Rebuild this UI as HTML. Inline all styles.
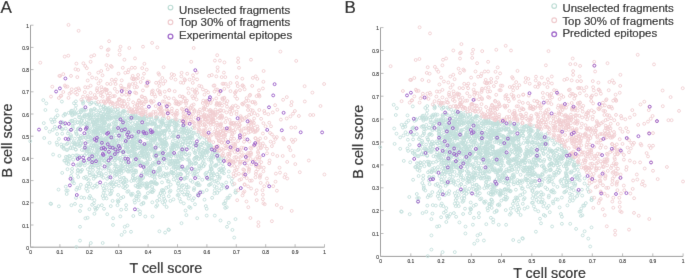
<!DOCTYPE html>
<html><head><meta charset="utf-8"><style>
html,body{margin:0;padding:0;background:#fff;width:685px;height:278px;overflow:hidden}
svg{display:block;font-family:"Liberation Sans",sans-serif}
</style></head><body><svg width="685" height="278" viewBox="0 0 685 278" font-family="Liberation Sans, sans-serif"><defs><filter id="bl" filterUnits="userSpaceOnUse" x="0" y="0" width="685" height="278"><feConvolveMatrix order="3" kernelMatrix="0.0052 0.0619 0.0052 0.0619 0.7314 0.0619 0.0052 0.0619 0.0052" edgeMode="duplicate"/></filter></defs><g filter="url(#bl)"><rect width="685" height="278" fill="#fff"/><path d="M30.5 25.2V247.2H324.5" fill="none" stroke="#999" stroke-width="1"/><path d="M30.5 247.2v-3M30.5 247.2h3M59.9 247.2v-3M30.5 225.0h3M89.3 247.2v-3M30.5 202.8h3M118.7 247.2v-3M30.5 180.6h3M148.1 247.2v-3M30.5 158.4h3M177.5 247.2v-3M30.5 136.2h3M206.9 247.2v-3M30.5 114.0h3M236.3 247.2v-3M30.5 91.8h3M265.7 247.2v-3M30.5 69.6h3M295.1 247.2v-3M30.5 47.4h3M324.5 247.2v-3M30.5 25.2h3" fill="none" stroke="#a8a8a8" stroke-width="0.8"/><g font-size="4.9" fill="#222" stroke="#222" stroke-width="0.12"><text x="30.5" y="254.1" text-anchor="middle">0</text><text x="29.0" y="249.8" text-anchor="end">0</text><text x="59.9" y="254.1" text-anchor="middle">0.1</text><text x="29.0" y="227.6" text-anchor="end">0.1</text><text x="89.3" y="254.1" text-anchor="middle">0.2</text><text x="29.0" y="205.4" text-anchor="end">0.2</text><text x="118.7" y="254.1" text-anchor="middle">0.3</text><text x="29.0" y="183.2" text-anchor="end">0.3</text><text x="148.1" y="254.1" text-anchor="middle">0.4</text><text x="29.0" y="161.0" text-anchor="end">0.4</text><text x="177.5" y="254.1" text-anchor="middle">0.5</text><text x="29.0" y="138.8" text-anchor="end">0.5</text><text x="206.9" y="254.1" text-anchor="middle">0.6</text><text x="29.0" y="116.6" text-anchor="end">0.6</text><text x="236.3" y="254.1" text-anchor="middle">0.7</text><text x="29.0" y="94.4" text-anchor="end">0.7</text><text x="265.7" y="254.1" text-anchor="middle">0.8</text><text x="29.0" y="72.2" text-anchor="end">0.8</text><text x="295.1" y="254.1" text-anchor="middle">0.9</text><text x="29.0" y="50.0" text-anchor="end">0.9</text><text x="324.5" y="254.1" text-anchor="middle">1</text><text x="29.0" y="27.8" text-anchor="end">1</text></g><path d="M380.5 27.6V256.4H683.1" fill="none" stroke="#999" stroke-width="1"/><path d="M380.5 256.4v-3M380.5 256.4h3M410.8 256.4v-3M380.5 233.5h3M441.0 256.4v-3M380.5 210.6h3M471.3 256.4v-3M380.5 187.8h3M501.5 256.4v-3M380.5 164.9h3M531.8 256.4v-3M380.5 142.0h3M562.1 256.4v-3M380.5 119.1h3M592.3 256.4v-3M380.5 96.2h3M622.6 256.4v-3M380.5 73.4h3M652.8 256.4v-3M380.5 50.5h3M683.1 256.4v-3M380.5 27.6h3" fill="none" stroke="#a8a8a8" stroke-width="0.8"/><g font-size="4.9" fill="#222" stroke="#222" stroke-width="0.12"><text x="380.5" y="263.3" text-anchor="middle">0</text><text x="379.0" y="259.0" text-anchor="end">0</text><text x="410.8" y="263.3" text-anchor="middle">0.1</text><text x="379.0" y="236.1" text-anchor="end">0.1</text><text x="441.0" y="263.3" text-anchor="middle">0.2</text><text x="379.0" y="213.2" text-anchor="end">0.2</text><text x="471.3" y="263.3" text-anchor="middle">0.3</text><text x="379.0" y="190.4" text-anchor="end">0.3</text><text x="501.5" y="263.3" text-anchor="middle">0.4</text><text x="379.0" y="167.5" text-anchor="end">0.4</text><text x="531.8" y="263.3" text-anchor="middle">0.5</text><text x="379.0" y="144.6" text-anchor="end">0.5</text><text x="562.1" y="263.3" text-anchor="middle">0.6</text><text x="379.0" y="121.7" text-anchor="end">0.6</text><text x="592.3" y="263.3" text-anchor="middle">0.7</text><text x="379.0" y="98.8" text-anchor="end">0.7</text><text x="622.6" y="263.3" text-anchor="middle">0.8</text><text x="379.0" y="76.0" text-anchor="end">0.8</text><text x="652.8" y="263.3" text-anchor="middle">0.9</text><text x="379.0" y="53.1" text-anchor="end">0.9</text><text x="683.1" y="263.3" text-anchor="middle">1</text><text x="379.0" y="30.2" text-anchor="end">1</text></g><defs><marker id="mt" markerUnits="userSpaceOnUse" markerWidth="8" markerHeight="8" refX="4" refY="4" overflow="visible"><circle cx="4" cy="4" r="1.45" fill="none" stroke="#c2dfdb" stroke-width="0.9"/></marker><marker id="mp" markerUnits="userSpaceOnUse" markerWidth="8" markerHeight="8" refX="4" refY="4" overflow="visible"><circle cx="4" cy="4" r="1.45" fill="none" stroke="#f0cdd0" stroke-width="0.9"/></marker><marker id="mv" markerUnits="userSpaceOnUse" markerWidth="8" markerHeight="8" refX="4" refY="4" overflow="visible"><circle cx="4" cy="4" r="1.45" fill="none" stroke="#9d5ccb" stroke-width="1.0"/></marker></defs><path d="M141.9 152.9 127.9 147.9 120.0 128.2 30.2 141.2 211.9 179.9 94.4 108.7 46.0 128.1 71.3 110.8 138.1 182.1 103.7 155.4 172.9 141.2 108.0 147.2 138.1 187.2 170.8 147.6 67.7 190.6 116.0 184.6 73.2 159.7 109.4 116.6 140.0 211.5 103.4 115.1 86.6 185.8 196.2 163.1 215.9 165.8 131.8 150.6 135.9 154.4 127.5 145.4 169.5 121.8 179.0 187.5 113.8 122.6 216.3 180.7 184.7 148.7 137.9 192.1 134.4 200.3 152.6 133.7 83.9 109.4 142.3 125.2 132.5 132.0 144.7 123.2 126.2 161.2 81.6 119.9 113.6 128.5 194.9 160.5 188.7 198.5 61.9 146.8 104.3 121.2 104.3 125.6 196.4 184.2 158.8 163.1 157.5 144.0 150.9 170.6 235.7 190.5 93.1 154.2 93.0 170.0 80.8 184.8 189.8 138.4 130.6 119.3 131.5 115.5 154.8 174.6 89.4 115.4 108.1 112.7 114.9 160.7 150.5 131.3 185.4 130.5 204.5 199.7 122.9 126.2 91.4 103.0 184.2 138.8 187.4 131.7 168.6 154.8 106.4 109.4 235.6 192.6 217.9 158.8 151.2 149.6 110.8 206.1 80.9 171.0 196.1 157.6 115.0 156.5 84.7 165.3 110.9 147.6 112.6 132.1 175.4 145.4 96.8 186.7 187.3 194.9 103.3 177.7 157.2 136.6 140.3 155.4 203.6 166.2 113.7 157.9 81.3 197.4 198.7 132.7 136.4 158.0 92.1 204.8 198.7 149.8 202.8 142.7 83.1 123.2 212.5 172.0 103.7 160.8 171.7 169.4 169.6 191.9 181.5 223.2 97.3 139.6 213.8 156.4 120.1 179.6 202.1 155.4 101.9 130.8 168.8 181.3 197.0 174.6 117.1 119.3 166.6 207.0 114.6 129.7 94.2 130.5 155.0 162.1 144.2 156.7 126.1 205.2 131.4 166.1 117.5 115.9 143.4 118.3 144.6 133.0 111.7 143.2 114.7 117.0 72.9 128.1 74.5 112.6 133.7 170.2 170.4 200.9 112.0 160.0 209.4 171.3 188.5 158.9 211.7 162.7 134.4 143.0 45.4 110.0 181.3 157.3 235.5 219.1 131.8 130.8 103.6 198.4 211.7 168.9 147.0 143.4 72.2 110.8 155.7 183.1 143.2 203.4 164.4 134.2 116.0 117.2 71.7 129.6 118.1 111.6 126.6 169.9 165.1 141.8 100.4 141.9 182.9 159.1 180.6 136.8 123.8 152.2 90.8 243.0 119.5 148.4 218.4 158.1 111.7 115.9 177.6 195.2 97.8 127.2 160.5 120.5 223.1 185.6 154.3 140.2 135.2 178.8 75.9 101.4 127.8 164.7 205.4 174.0 120.8 145.4 84.2 197.9 146.4 149.7 172.2 124.2 99.3 140.3 165.7 125.6 72.1 168.9 109.6 148.5 212.1 197.8 94.9 158.5 100.8 138.0 97.3 119.4 214.8 165.8 93.4 145.1 108.3 146.9 175.8 169.1 122.5 138.8 85.5 146.4 101.6 117.9 148.1 154.1 123.3 197.0 95.9 145.1 63.5 115.7 104.7 123.2 105.1 146.2 103.0 140.2 199.2 168.1 91.1 145.3 76.5 134.0 167.3 127.7 142.5 184.0 168.5 126.3 125.5 159.4 130.5 121.4 200.3 137.2 177.9 161.5 107.7 134.1 169.5 137.2 127.5 112.5 154.5 150.2 133.8 146.7 168.4 187.0 177.8 175.2 103.4 106.5 81.2 121.1 83.8 163.6 118.7 115.0 122.3 135.1 160.0 167.6 101.0 139.4 171.3 148.2 106.8 119.6 102.6 129.7 123.7 170.9 98.8 173.1 157.9 170.8 162.8 118.2 190.6 142.5 146.7 183.1 129.5 129.4 163.1 154.9 172.9 132.6 193.4 149.9 204.8 164.1 101.6 157.4 130.8 168.6 232.9 184.6 119.9 157.8 148.0 155.3 156.3 128.3 156.0 133.4 139.6 140.2 97.4 148.4 150.2 137.1 221.5 188.6 89.1 186.7 181.8 185.9 171.9 151.0 76.0 197.9 161.7 132.5 177.5 177.4 134.1 143.7 146.0 171.1 211.3 147.0 182.9 141.5 84.8 135.7 194.6 174.2 82.8 161.5 190.5 172.0 98.1 129.7 80.3 129.3 175.8 128.9 154.7 138.5 217.5 152.6 203.3 154.1 108.7 109.6 117.6 133.3 142.2 165.5 103.6 129.0 165.3 201.0 119.7 119.4 177.5 161.3 151.6 150.1 180.4 174.1 160.9 152.2 173.9 135.1 69.6 156.6 128.4 151.2 69.5 138.8 158.9 168.1 156.6 117.1 176.6 124.0 105.3 116.2 159.7 168.8 103.3 145.5 130.0 166.5 77.6 122.4 67.9 133.4 162.6 202.3 152.7 174.5 144.5 197.3 100.7 113.2 231.7 182.0 228.5 198.0 173.1 165.0 206.6 155.2 101.2 148.7 208.0 148.8 88.1 183.8 177.4 145.9 115.5 126.7 146.0 129.0 88.0 101.0 119.7 170.3 87.7 134.2 91.5 198.4 183.0 133.0 189.1 155.3 190.3 137.1 78.0 158.7 197.2 218.2 56.7 142.5 106.4 147.7 102.5 134.9 93.7 178.7 142.8 131.5 134.8 136.9 132.7 151.4 101.6 174.5 105.5 139.2 230.0 195.5 99.3 159.9 109.4 184.7 66.6 163.2 132.8 147.4 101.7 140.5 121.3 130.4 106.1 140.5 155.4 156.8 61.4 123.0 71.6 120.8 123.2 187.2 121.2 209.7 197.0 144.7 228.8 222.8 122.8 156.4 161.9 132.3 118.6 139.0 89.6 114.4 154.6 163.8 192.8 143.0 166.4 125.7 74.0 183.3 168.5 175.0 107.2 214.2 151.2 170.6 177.5 164.2 152.4 165.0 104.5 168.5 156.1 206.6 93.4 115.4 175.6 164.5 102.7 185.8 195.0 204.3 152.3 140.1 99.0 128.2 155.9 143.2 99.3 162.5 97.9 138.0 89.7 115.2 145.7 173.2 162.5 153.2 63.8 145.2 198.0 182.9 115.6 164.9 116.4 172.0 106.9 117.9 150.3 134.6 112.6 200.9 165.0 144.7 129.4 152.4 101.8 121.9 155.3 139.7 90.3 118.1 122.7 142.5 181.0 148.1 100.7 107.5 148.0 124.7 113.3 131.5 112.7 141.5 177.3 136.3 151.1 165.7 93.7 139.3 96.7 149.6 191.3 164.9 172.4 148.6 202.7 162.9 144.1 156.0 119.3 134.5 143.1 153.7 87.8 162.9 173.4 199.4 135.6 185.8 97.5 152.2 148.9 116.8 106.4 158.7 100.8 128.5 151.0 145.0 86.2 160.5 158.2 171.0 153.4 149.4 132.3 145.8 152.7 133.0 105.6 183.8 163.0 123.0 199.1 166.1 73.0 123.7 171.4 151.6 138.1 132.7 87.5 125.3 204.5 143.6 228.8 171.5 138.8 159.2 88.2 115.7 122.9 166.0 136.7 135.0 140.0 214.2 128.5 191.1 109.4 190.7 121.9 136.6 76.7 165.6 212.0 155.1 43.8 123.1 77.9 170.5 136.0 118.2 118.9 158.9 187.7 144.4 91.1 138.2 97.5 163.2 92.5 148.2 101.7 176.1 135.0 163.5 132.6 146.9 112.5 132.3 165.0 139.4 79.9 138.6 114.8 175.8 91.2 117.5 177.5 155.8 92.2 148.7 68.7 161.2 141.5 155.4 146.1 147.2 95.9 110.1 210.8 175.2 143.8 131.9 167.9 181.6 218.0 176.8 123.9 130.4 120.7 181.7 134.0 159.6 145.4 148.9 126.7 181.2 96.5 153.8 140.5 177.4 184.3 179.0 154.9 120.9 195.5 163.5 197.3 134.8 188.8 147.0 92.2 154.1 187.0 138.4 142.6 156.8 130.1 131.1 84.0 110.5 226.4 188.2 104.8 160.2 149.2 170.3 161.7 143.6 195.7 151.2 189.1 160.5 98.1 134.3 181.3 151.1 109.4 124.5 139.3 143.2 134.1 141.2 70.0 158.7 136.3 198.4 146.6 174.3 108.4 110.8 153.3 149.7 133.8 118.2 94.9 126.1 93.9 125.9 154.3 152.7 67.8 143.1 103.6 192.6 206.3 172.8 168.6 130.0 110.6 173.0 155.8 171.8 221.9 184.6 129.1 136.3 142.2 127.8 223.2 157.9 145.3 216.5 221.3 170.6 105.3 132.5 97.2 122.2 115.7 140.3 102.4 165.3 136.8 145.1 124.9 118.3 95.5 130.3 89.9 172.4 161.2 124.8 104.1 122.8 224.0 173.3 135.2 137.1 161.8 123.1 99.4 163.7 146.7 188.1 184.9 138.5 102.9 111.4 111.6 156.1 84.8 148.5 137.2 137.7 144.3 151.0 182.1 151.5 198.4 195.6 183.3 151.7 190.8 129.3 168.1 153.9 198.6 158.6 121.1 122.7 152.1 187.0 133.7 152.3 109.2 117.5 82.0 169.9 175.5 156.0 144.3 118.4 137.5 123.9 102.7 196.0 121.0 198.1 155.4 148.9 105.2 112.1 112.8 147.2 148.6 168.9 162.1 122.8 128.9 156.8 115.6 157.1 142.2 185.5 141.4 204.3 168.4 229.5 178.3 141.5 143.2 165.4 108.7 164.0 152.5 216.5 115.8 166.4 79.1 114.8 131.5 195.2 134.2 180.4 96.6 115.1 142.6 129.0 129.1 142.3 67.4 160.7 124.7 151.4 208.9 185.1 191.2 163.0 94.2 165.4 134.0 116.7 108.8 143.9 105.4 139.4 99.0 145.0 135.3 114.5 131.3 141.7 185.5 189.4 80.9 137.9 79.4 188.2 87.3 128.3 169.0 129.7 223.9 169.1 127.4 133.7 135.3 122.2 149.5 131.8 62.4 122.1 117.9 109.0 136.1 170.7 116.9 174.0 182.2 144.1 74.7 143.7 84.4 150.5 163.2 190.7 155.4 155.4 159.7 121.6 116.8 181.7 122.5 112.0 108.0 165.6 114.4 156.4 161.1 143.2 134.2 153.9 150.1 159.1 93.8 152.1 123.3 111.2 156.5 146.9 160.6 126.4 91.1 161.8 131.0 194.1 166.8 178.5 189.9 131.5 137.5 141.8 80.3 144.2 139.7 181.7 93.5 161.9 138.6 200.2 123.4 178.0 125.1 166.8 91.2 111.6 72.8 155.7 90.5 121.5 194.8 173.3 206.7 215.6 72.5 180.4 109.1 142.4 123.4 162.0 134.8 131.1 75.7 149.3 137.9 160.0 125.1 184.6 89.2 132.5 190.5 207.9 161.4 131.8 123.8 137.4 91.6 124.7 209.8 184.5 77.8 129.1 160.7 146.7 187.7 175.1 70.9 135.1 144.3 127.3 225.2 207.9 101.3 127.8 99.8 149.6 90.2 104.1 234.2 237.6 154.9 153.1 75.0 119.6 108.6 170.2 116.8 154.0 115.8 151.8 74.7 123.4 112.5 155.5 177.0 175.9 119.1 118.3 139.7 120.0 148.3 136.9 160.3 169.9 184.4 123.5 163.5 196.5 106.3 138.1 190.5 137.3 168.9 229.9 181.7 128.4 158.7 133.8 176.7 180.7 104.0 155.1 145.9 186.5 151.0 140.8 187.4 167.8 152.6 123.5 61.9 101.6 160.0 137.6 122.3 152.1 144.8 169.1 157.7 174.4 170.7 184.6 100.1 158.7 102.0 155.6 147.1 185.0 105.3 107.7 147.7 162.5 202.7 192.1 108.1 157.3 115.3 110.0 97.0 152.4 210.6 159.7 128.6 134.6 144.6 168.2 83.6 116.2 89.6 151.6 130.2 127.0 76.5 144.6 193.4 175.1 179.2 146.1 137.3 135.8 155.7 152.9 97.3 123.7 79.8 138.2 154.7 135.2 112.5 151.2 123.2 183.1 193.3 133.3 164.0 156.5 136.3 125.2 105.6 119.4 152.9 163.0 154.1 155.7 126.4 147.4 175.6 172.1 173.1 144.9 110.0 154.5 161.1 152.7 142.6 146.1 98.4 150.7 145.5 145.4 121.2 125.2 82.4 137.4 133.7 161.1 180.9 129.6 185.8 142.7 91.8 102.6 72.6 181.9 219.1 190.5 202.5 158.9 166.9 145.2 146.4 154.9 147.4 163.4 208.6 159.5 78.2 136.3 137.1 117.3 160.3 175.2 175.9 166.7 108.8 168.3 123.6 145.1 147.5 129.5 210.2 157.5 145.3 137.3 120.4 146.9 147.9 193.1 108.6 128.9 154.9 179.1 147.1 172.7 98.1 125.7 111.7 188.4 102.7 119.1 145.3 116.8 99.6 160.4 127.6 148.0 101.2 160.5 141.4 125.3 61.8 128.9 84.8 155.2 74.5 146.3 123.5 182.8 155.2 173.8 184.0 168.9 159.9 153.2 181.7 154.1 97.4 172.0 70.6 148.1 87.2 149.5 167.8 128.0 225.6 200.9 185.3 177.6 106.5 114.2 162.2 148.0 92.5 159.3 159.5 134.4 67.3 157.3 182.1 192.3 111.0 171.2 189.5 153.6 186.4 215.1 157.2 205.2 114.9 160.0 96.6 141.1 140.7 125.7 80.1 165.2 216.7 187.3 211.3 169.6 117.5 145.1 151.0 144.8 93.3 132.6 180.8 174.1 68.4 164.1 90.8 109.9 159.7 139.0 210.9 168.6 182.7 185.2 83.6 143.7 159.3 154.0 164.2 118.7 76.0 105.6 164.6 156.3 91.4 140.6 158.0 163.4 116.5 149.2 193.2 146.9 143.4 202.8 176.6 124.7 117.5 205.2 124.5 115.8 146.5 153.0 160.8 130.6 183.3 128.0 119.7 113.4 151.8 171.3 91.8 164.6 102.7 144.8 193.9 189.9 156.2 132.2 183.5 153.3 72.6 148.2 151.5 182.5 138.6 128.5 109.2 130.0 107.1 178.8 219.8 177.0 110.4 183.4 104.9 152.9 140.5 118.3 109.6 117.9 214.4 193.5 134.5 138.3 158.5 136.9 133.9 126.4 100.2 115.8 88.8 180.0 97.0 128.0 120.7 162.3 86.0 137.9 172.5 145.3 188.6 187.1 57.3 144.8 114.8 121.4 101.6 157.7 172.0 173.2 154.1 138.1 178.6 194.9 103.3 124.0 136.1 196.3 116.4 123.5 198.1 185.1 121.6 234.9 152.3 189.4 103.6 188.7 136.9 127.2 211.5 156.5 207.8 151.9 116.0 135.5 88.3 137.0 138.6 192.4 80.9 205.7 170.5 152.4 133.4 135.9 178.0 183.9 157.2 133.0 89.8 156.6 142.7 151.8 96.0 122.1 149.5 130.4 93.9 135.3 86.8 119.9 108.4 126.9 166.5 160.0 93.0 187.7 94.1 145.9 206.3 176.1 97.0 117.5 104.1 147.9 162.7 143.9 186.9 187.4 96.3 139.5 183.4 147.3 65.8 186.7 87.1 129.1 150.1 151.7 128.0 120.2 89.1 197.9 113.0 148.2 98.0 129.6 94.0 122.8 89.3 158.0 147.8 159.1 166.6 168.0 164.4 204.3 98.0 167.7 88.9 151.4 114.5 143.3 137.9 125.1 179.1 131.7 139.7 153.0 178.2 136.8 77.3 155.4 206.7 139.8 179.7 153.7 140.9 146.7 111.2 133.7 115.0 130.9 44.2 138.0 112.6 179.6 150.7 182.6 126.5 140.2 145.7 196.6 146.2 147.4 119.9 150.5 178.2 190.7 76.4 189.7 103.7 130.5 154.1 133.6 223.8 203.8 127.1 142.6 139.2 178.3 90.1 136.9 138.5 155.9 193.9 198.2 85.9 109.7 114.4 168.5 79.0 117.2 109.9 155.7 107.2 167.0 151.5 146.0 106.0 130.4 85.5 137.5 127.3 144.0 162.8 159.7 96.7 154.9 127.5 225.5 92.5 121.0 147.2 146.9 96.5 157.4 104.8 123.2 174.9 154.5 166.5 157.9 110.0 112.0 156.4 154.4 189.1 131.0 139.0 140.8 75.0 114.0 186.8 177.8 88.2 123.7 125.5 146.3 162.5 121.1 152.6 142.8 92.6 156.3 94.6 145.5 77.9 169.9 161.5 122.4 79.1 146.0 163.1 143.7 179.9 120.9 119.0 185.7 150.2 144.9 136.1 158.3 87.8 169.2 161.9 157.6 222.0 170.0 161.1 140.0 111.2 118.5 133.7 144.9 189.7 195.6 135.4 146.2 78.6 141.3 110.7 111.3 146.3 124.3 111.0 147.9 159.5 133.1 102.8 140.9 111.6 134.7 85.0 124.4 116.0 117.1 150.9 148.6 136.3 149.0 156.3 119.2 104.9 108.0 101.8 205.2 147.1 158.7 133.4 137.4 197.0 157.3 220.5 220.5 200.2 151.3 192.8 127.8 232.4 229.9 192.4 200.2 155.3 182.8 184.0 124.3 99.2 104.8 121.7 160.8 132.6 166.7 192.7 138.8 132.8 177.9 121.7 131.2 108.6 125.9 135.8 153.9 132.1 142.6 117.1 154.3 203.3 165.9 116.3 145.5 164.3 192.8 84.9 116.0 131.3 181.0 93.7 124.6 84.8 116.9 165.2 130.9 88.1 149.1 189.1 134.6 191.4 132.0 147.5 135.5 103.0 120.9 160.3 134.4 218.1 182.9 143.4 172.2 172.7 136.4 100.0 164.4 162.3 143.0 137.9 147.7 166.2 142.8 94.9 185.8 161.5 154.2 166.2 156.0 64.1 124.2 126.3 162.5 127.3 133.7 206.7 190.1 110.2 136.7 95.6 102.8 202.6 154.0 197.0 156.8 143.2 132.5 103.9 109.0 134.9 202.6 227.0 226.8 76.4 246.9 81.0 124.8 157.6 154.7 180.1 180.4 164.0 149.9 113.0 225.0 133.8 146.6 112.1 131.7 99.9 145.3 121.3 126.8 115.7 171.3 173.0 147.3 152.9 182.2 205.8 151.8 175.5 121.5 137.5 117.5 142.8 130.4 87.6 217.8 175.4 119.8 203.6 161.2 74.0 103.2 163.0 150.0 93.6 162.1 51.0 119.5 186.7 133.7 187.2 159.5 155.6 148.7 218.7 160.3 82.7 101.2 171.2 149.9 158.2 145.6 128.7 129.3 159.2 196.1 138.2 140.4 67.5 169.2 116.4 131.6 119.9 172.1 71.1 113.4 49.6 142.8 200.4 144.6 97.3 160.9 178.1 136.8 175.8 146.4 156.6 136.0 180.9 142.4 131.0 231.8 209.6 171.8 81.6 140.6 74.8 142.9 126.2 179.9 114.7 144.7 102.4 142.9 132.0 149.8 117.2 112.4 124.1 181.9 97.6 135.3 93.5 131.9 76.0 155.4 210.1 145.4 104.6 150.2 136.5 125.2 182.7 144.4 125.7 147.3 85.4 218.3 80.6 143.0 154.4 177.3 80.3 117.2 61.2 144.5 80.9 171.7 145.4 153.2 134.4 144.6 105.3 138.1 57.1 134.0 157.0 183.7 146.2 162.6 98.7 157.1 122.5 133.2 88.0 137.1 80.2 145.8 159.9 140.5 174.3 132.2 157.8 160.6 112.3 139.3 125.6 121.0 176.5 122.2 120.6 139.0 163.9 176.1 121.5 169.7 78.1 164.5 129.4 118.5 198.2 146.9 132.3 163.2 141.3 136.3 201.5 156.8 94.4 200.3 92.3 141.0 113.5 147.2 171.8 120.6 213.4 157.7 156.4 184.1 94.4 120.0 90.2 118.0 200.6 168.5 114.4 143.6 95.9 176.6 210.7 167.0 194.1 188.2 174.5 166.8 93.3 131.3 175.2 138.3 124.1 177.8 163.6 124.6 87.7 133.3 169.0 154.3 115.3 123.4 103.9 142.5 174.7 123.7 106.4 156.9 114.3 129.7 135.7 131.2 182.7 136.5 130.9 144.6 134.0 155.3 110.1 137.4 165.1 159.2 132.0 127.2 85.8 176.9 88.0 147.3 99.9 149.3 86.6 123.3 197.3 145.0 178.3 168.3 72.2 115.4 195.3 153.2 122.6 151.7 148.5 119.5 119.4 170.7 114.7 126.8 183.7 129.9 139.1 125.8 173.6 145.6 115.7 117.6 97.3 183.8 72.2 120.8 95.4 124.1 94.4 213.8 150.3 143.2 175.1 130.4 71.6 144.7 147.7 144.5 59.4 155.9 81.9 150.0 164.9 151.1 112.4 184.6 87.0 179.0 190.7 180.4 105.4 116.8 175.0 160.5 213.3 173.6 141.9 118.4 121.5 173.1 69.0 156.0 126.7 139.0 118.1 194.9 120.0 170.2 88.9 114.2 62.2 133.7 228.7 176.5 174.1 125.5 185.5 210.6 111.9 190.8 144.3 164.7 119.9 116.7 87.3 141.7 202.3 152.6 143.4 132.6 153.1 148.5 118.6 135.4 107.9 109.0 112.9 145.2 177.0 125.4 123.9 130.1 151.6 136.3 51.1 203.9 163.6 147.0 98.6 148.0 79.3 141.0 212.5 150.6 178.4 183.5 145.2 127.1 106.5 198.4 200.2 154.2 102.9 131.9 163.3 190.2 95.8 143.3 84.0 177.8 164.3 143.0 118.7 130.8 95.4 132.0 90.7 139.3 189.2 207.0 110.0 137.3 150.8 122.2 141.6 174.0 156.9 159.3 119.1 151.5 80.0 211.0 114.7 147.9 116.0 117.9 118.5 201.4 110.1 163.9 82.7 118.4 95.4 132.7 174.3 122.4 207.7 151.9 174.5 144.9 165.4 154.0 132.4 146.6 140.6 148.8 111.0 117.9 211.9 178.2 71.4 205.2 103.0 130.3 133.5 116.8 142.0 127.5 156.3 118.0 118.6 141.1 125.7 121.3 194.1 159.0 135.2 170.5 80.9 135.9 111.2 146.8 226.7 207.2 75.4 109.0 210.6 165.8 99.7 137.2 196.8 145.6 132.5 123.3 183.8 129.0 198.0 194.0 138.3 147.6 132.1 164.7 217.3 155.3 175.0 161.3 83.3 102.4 100.0 128.2 214.8 190.3 166.1 138.5 165.3 146.2 95.6 119.5 169.4 125.8 139.3 122.7 175.5 162.6 126.9 147.9 82.1 109.7 173.6 179.4 101.9 120.6 217.0 174.2 193.7 169.6 207.0 144.5 154.9 123.3 110.0 164.0 55.8 117.2 103.2 148.4 148.9 167.8 152.7 123.4 156.8 117.2 79.0 156.1 114.3 164.3 159.6 171.0 188.1 168.1 72.6 126.3 122.2 126.9 62.2 172.9 100.8 170.2 66.5 149.9 135.4 114.8 182.8 131.3 152.6 192.0 77.5 144.3 141.1 180.4 194.8 163.7 169.8 155.3 174.1 175.9 95.1 207.9 179.0 173.6 133.3 216.0 151.4 174.0 83.0 103.6 88.7 141.9 122.9 112.8 70.4 121.4 199.7 152.9 72.5 178.6 205.8 206.1 54.0 119.5 100.2 121.1 136.0 172.4 113.7 148.8 205.7 152.5 129.5 134.2 158.1 126.8 125.9 141.1 117.5 142.9 114.5 154.0 147.7 123.9 168.8 196.2 62.1 122.6 166.7 144.1 170.0 163.9 147.7 186.7 54.9 126.8 138.7 130.2 108.3 114.5 65.9 156.8 143.4 133.1 80.4 123.2 117.8 158.3 66.3 190.6 127.3 127.6 178.4 164.3 113.7 129.4 137.5 147.9 121.0 170.3 165.8 123.6 140.7 132.0 171.7 153.8 194.2 132.7 187.2 172.8 201.3 144.3 132.2 144.2 214.8 215.6 95.1 158.9 161.4 121.5 132.7 193.8 124.9 123.7 190.2 142.6 135.6 131.8 211.6 175.1 186.7 194.1 181.5 178.5 165.1 232.6 135.5 129.4 118.0 145.8 172.2 143.8 179.2 152.8 86.6 115.1 198.7 159.1 173.6 166.9 80.0 240.6 175.9 126.7 133.0 115.1 165.8 142.7 77.4 187.7 114.3 113.5 167.7 155.2 211.0 145.5 219.2 172.8 86.2 153.9 136.4 128.8 124.4 120.0 99.1 132.2 145.7 145.1 194.2 171.5 204.4 137.7 171.0 156.3 80.0 165.5 172.2 161.3 62.5 129.3 68.8 131.6 212.4 153.2 128.1 115.8 140.7 128.1 96.5 120.8 139.5 163.3 101.2 124.9 128.9 137.3 88.0 130.6 94.3 109.4 147.2 138.3 144.5 119.2 218.7 163.8 144.5 157.5 43.3 100.1 131.7 170.5 144.2 119.2 149.8 175.5 185.3 141.6 125.7 128.5 140.5 145.4 189.2 147.9 154.9 124.6 146.6 135.0 70.3 147.9 173.6 136.8 117.7 200.4 168.2 120.9 151.6 123.8 67.0 144.0 143.4 183.4 77.4 157.5 214.7 154.2 125.0 188.1 107.1 162.3 145.0 122.2 71.4 140.9 87.2 126.2 86.2 188.7 128.3 151.6 170.5 190.7 116.8 174.7 137.0 141.9 184.6 132.5 181.5 189.5 77.5 158.4 143.3 176.9 135.0 129.1 91.9 165.3 126.1 162.6 178.3 161.9 184.1 194.5 75.0 203.9 90.0 196.0 93.9 203.4 137.9 133.2 170.5 121.4 110.9 132.6 169.8 164.7 219.0 156.2 86.2 149.7 89.2 118.7 154.7 128.9 206.4 151.1 183.6 124.7 143.9 145.7 96.9 208.4 95.0 176.6 106.5 142.9 131.1 155.6 139.5 185.8 155.4 139.0 106.5 187.7 171.1 172.0 185.4 154.1 111.6 145.1 164.5 139.5 149.5 145.0 76.5 133.4 209.2 178.6 146.7 148.3 151.9 192.0 96.1 163.6 139.5 127.6 184.2 123.1 176.9 168.2 121.6 166.3 146.1 130.5 56.7 110.4 186.7 127.9 75.4 144.3 139.3 117.7 91.4 131.9 108.4 161.0 186.1 171.1 98.8 138.9 140.7 179.4 136.0 149.0 103.6 106.1 135.1 116.2 214.0 175.2 122.2 126.9 185.3 151.0 134.2 172.2 98.0 141.3 112.8 107.6 100.7 156.0 171.1 156.0 87.5 126.1 143.7 148.6 147.2 151.7 129.8 127.8 141.8 147.7 117.5 166.7 130.2 171.7 172.1 172.1 201.2 165.1 80.6 110.4 174.8 127.5 112.2 152.9 140.8 148.7 102.3 116.8 103.7 132.7 89.8 128.3 103.4 157.8 140.3 118.8 208.3 147.5 151.6 119.2 154.7 156.6 101.3 126.1 204.8 157.7 116.0 152.2 188.0 144.8 221.4 158.0 93.5 122.7 176.8 160.7 113.9 186.3 211.6 161.7 104.8 160.9 107.8 118.9 141.9 152.6 64.9 113.9 208.0 179.2 163.8 176.1 77.8 122.2 52.8 129.9 181.9 158.5 95.3 132.0 211.4 158.1 126.1 209.2 133.6 136.5 113.6 128.8 88.3 129.4 101.7 174.0 132.9 140.8 111.6 134.3 202.0 147.5 179.8 160.8 115.3 171.5 128.1 152.4 191.3 136.6 104.1 114.0 151.1 116.9 113.2 137.3 150.9 139.9 102.8 139.4 123.7 122.3 136.6 155.9 138.6 196.4 136.6 133.6 87.1 150.9 146.4 135.8 141.2 152.1 189.1 141.0 110.9 111.5 191.7 138.0 165.2 174.2 95.7 209.7 131.4 156.6 161.9 190.1 139.4 194.3 148.7 155.9 159.4 231.3 143.9 116.0 69.8 137.4 102.7 243.0 104.6 190.6 126.8 126.1 71.1 175.9 128.0 171.6 115.9 174.6 131.2 116.0 137.8 209.7 114.1 127.1 108.5 125.2 161.5 133.4 63.9 148.8 92.8 167.1 108.8 177.0 100.7 133.2 216.2 164.7 102.4 117.6 101.8 115.9 154.1 133.7 139.8 141.1 75.9 149.7 125.4 142.8 151.8 124.5 181.3 156.2 98.7 175.4 169.6 161.2 222.7 172.3 195.0 157.8 210.9 183.9 179.7 138.5 138.8 129.6 179.6 198.7 142.9 118.1 127.3 191.8 204.3 148.8 164.5 130.6 104.6 132.3 128.6 161.4 87.9 148.4 207.4 150.3 160.6 193.0 129.0 123.1 125.4 149.2 160.2 139.5 113.0 137.4 196.6 183.6 106.0 173.6 148.0 145.9 147.9 148.6 152.3 132.2 148.3 142.8 176.6 142.5 90.5 183.8 120.4 118.0 75.9 131.9 127.0 186.0 177.8 146.8 139.8 187.3 189.8 161.8 127.4 124.5 99.5 110.7 98.6 167.5 157.6 159.1 75.3 113.0 91.5 115.6 110.4 157.0 140.4 118.5 113.7 140.4 46.3 103.4 113.7 130.4 97.8 153.2 220.5 168.6 106.0 153.5 108.1 165.0 163.0 131.1 114.7 141.9 57.6 115.4 122.8 118.8 192.2 135.8 128.9 146.8 152.3 176.1 99.3 117.2 135.7 164.8 141.7 178.4 114.6 173.1 113.4 182.9 147.5 183.8 170.1 132.8 201.7 157.0 215.1 152.3 93.6 155.6 184.6 178.3 202.3 179.8 65.7 128.5 141.2 162.8 92.0 136.0 133.2 174.6 58.9 206.3 179.2 167.7 163.5 173.1 143.3 126.5 65.2 114.6 101.3 157.2 133.5 116.1 164.3 133.9 218.4 159.0 158.2 153.0 174.2 144.9 150.5 191.4 91.0 110.6 170.9 161.1 152.3 202.3 109.1 119.7 92.9 121.9 104.9 130.9 199.0 148.4 129.1 132.0 93.3 117.3 158.2 132.7 110.1 194.3 147.0 164.5 97.4 114.5 120.9 165.7 134.9 155.0 120.2 114.1 99.0 112.4 114.1 112.0 52.3 122.2 209.1 143.2 142.0 145.7 217.3 193.0 146.5 186.9 225.0 203.4 89.8 153.2 101.8 119.1 96.7 131.9 132.8 128.3 111.5 182.8 95.8 165.5 119.6 146.1 206.5 142.8 120.9 117.0 157.1 133.2 189.8 163.8 219.4 178.6 90.4 147.6 64.3 160.6 94.1 130.7 137.3 186.7 206.7 208.8 92.2 129.1 111.4 138.4 89.8 175.3 78.2 177.0 177.5 143.1 89.6 154.5 204.2 150.8 80.0 226.8 159.5 199.6 118.8 146.9 182.0 132.6 163.3 165.4 89.4 209.2 122.7 168.8 164.2 198.9 170.3 158.9 137.0 118.2 132.7 138.9 143.7 128.2 80.9 111.8 132.2 140.9 142.3 151.2 96.5 146.9 164.5 136.0 100.6 139.8 147.8 123.8 156.7 131.7 172.6 160.9 134.7 143.1 139.5 143.2 194.7 152.6 156.4 126.7 180.0 166.3 126.0 141.7 153.7 190.4 68.7 112.9 105.8 127.7 195.0 143.2 154.9 123.9 132.6 117.8 138.3 133.4 203.6 150.8 108.7 146.9 137.8 177.4 185.1 169.8 126.1 156.7 103.5 125.9 103.3 116.5 97.6 120.1 127.7 163.5 134.5 178.8 117.3 150.5 121.4 160.0 78.6 112.4 183.9 169.6 150.2 130.8 135.5 128.7 216.4 151.7 145.4 124.6 131.0 155.9 162.3 140.1 144.3 144.8 143.1 119.1 116.4 141.0 232.0 178.6 108.2 143.8 143.7 134.2 174.5 149.7 168.6 125.5 159.9 127.2 49.6 131.7 164.6 162.5 139.0 121.9 132.6 144.1 140.7 163.6 150.5 122.7 143.3 128.3 148.3 135.3 214.8 181.5 89.4 172.7 132.6 149.3 108.9 137.1 136.4 138.9 123.3 120.6 183.8 203.4 208.3 145.8 136.4 165.2 169.8 154.0 109.4 140.5 144.7 164.8 122.0 127.5 143.0 178.1 182.6 127.5 71.3 136.7 78.2 128.6 164.6 131.2 199.6 185.1 66.7 194.0 176.1 130.5 178.8 133.4 181.1 167.3 96.5 154.3 111.1 193.4 138.0 184.9 93.5 123.1 168.8 163.5 67.4 149.9 145.3 116.8 110.4 115.5 110.0 131.9 93.3 176.1 124.6 111.2 93.1 174.2 118.1 201.8 186.1 154.6 209.7 147.1 139.4 157.4 219.1 169.4 116.6 169.3 127.1 131.9 58.9 138.9 150.5 166.6 97.8 133.8 122.6 125.0 173.3 163.4 166.1 149.0 134.7 152.2 139.4 184.2 101.4 150.9 146.6 118.6 142.9 136.0 142.4 151.7 183.4 138.3 93.8 114.0 220.5 161.1 172.7 121.0 116.6 121.8 139.2 162.8 165.2 131.3 96.7 104.0 71.9 172.0 70.9 112.1 105.2 154.0 147.8 171.8 108.7 107.9 174.0 162.7 121.3 124.7 137.9 160.8 65.1 160.4 86.8 122.9 129.0 141.4 56.7 128.6 156.3 126.0 110.7 154.7 102.0 139.5 188.0 192.2 186.3 128.9 134.8 158.3 123.2 131.2 103.2 147.8 120.6 135.8 107.2 114.2 198.1 171.2 165.5 130.8 199.1 138.7 157.1 200.9 169.3 124.3 90.6 166.8 166.3 174.5 50.5 203.6 143.2 147.6 117.3 126.7 105.6 195.5 134.2 148.5 164.3 132.9 154.9 132.3 118.6 148.7 180.8 169.5 154.7 130.6 97.1 148.9 111.7 124.0 98.4 206.1 63.5 147.4 98.8 138.6 140.5 129.4 178.2 156.7 157.2 118.3 90.2 167.4 124.7 226.8 222.2 163.1 154.2 183.4 81.6 121.0 128.8 117.8 187.7 138.5 54.6 121.4 105.3 122.8 173.3 135.7 187.8 166.8 108.9 177.2 172.9 148.1 58.5 189.6 79.0 128.3 99.6 125.7 95.8 134.8 124.4 129.4 98.8 119.9 87.6 191.1 142.9 120.8 167.8 173.6 144.3 149.1 81.6 156.0 72.5 114.1 126.3 132.3 141.5 161.8 136.8 196.4 53.1 154.5 200.7 191.7 178.4 125.5 115.4 152.5 181.1 174.4 116.6 130.7 166.3 187.8 223.2 166.7 176.5 148.8 227.4 197.8 113.1 218.3 119.8 176.9 80.9 164.1 160.8 158.3 93.3 161.3 77.5 173.5 106.4 141.9 187.8 135.7 198.8 177.5 173.8 173.3 160.0 177.1 107.4 152.1 155.6 164.7 73.6 142.5 59.9 127.4 123.5 151.0 127.9 170.8 192.5 181.9 132.8 118.4 124.7 231.8 112.9 140.9 81.0 112.1 123.7 111.0 147.2 136.0 196.4 156.9 107.6 112.5 226.2 182.5 160.9 162.4 107.0 162.9 112.7 117.8 120.3 216.4 132.8 116.1 152.6 140.9 127.5 167.1 104.0 208.8 111.1 110.2 214.5 186.2 152.4 169.3 162.0 182.4 178.4 158.0 96.6 129.6 133.1 175.4 144.0 163.8 123.5 154.3 146.1 197.7 91.4 144.9 74.8 138.7 215.1 149.5 159.9 134.8 186.3 184.9 92.6 158.9 181.8 149.7 235.5 192.4 180.8 201.7 124.2 121.2 125.6 124.0 116.2 153.4 186.3 133.3 130.1 151.2 195.3 144.7 195.1 169.4 118.8 168.5 95.9 132.6 128.9 137.4 149.4 185.9 151.3 181.9 80.8 162.4 160.7 193.4 129.7 130.0 104.0 128.4 188.3 137.8 84.9 114.5 96.1 129.7 137.6 131.3 106.3 140.6" fill="none" stroke="none" marker-start="url(#mt)" marker-mid="url(#mt)" marker-end="url(#mt)"/><path d="M121.7 80.4 137.5 103.1 181.8 108.8 224.3 88.9 214.1 115.1 224.2 98.3 222.0 105.7 219.9 60.6 58.9 98.0 252.7 121.5 256.7 190.3 263.4 81.8 212.9 113.0 219.2 133.4 268.3 114.2 293.0 142.0 270.6 141.6 178.4 104.3 176.8 103.3 248.6 128.1 216.2 135.5 230.1 160.0 185.8 117.8 223.0 149.9 240.3 120.9 209.3 138.8 121.7 90.5 264.7 113.2 142.3 102.0 243.0 161.7 167.9 113.5 249.5 155.6 110.6 84.0 75.2 92.7 186.1 103.7 84.8 92.1 96.4 78.4 222.1 155.0 258.1 141.8 131.3 109.2 76.4 63.6 195.0 96.1 210.4 115.6 134.6 87.4 222.3 98.4 204.9 119.2 258.3 148.1 64.9 85.5 239.5 180.0 212.4 115.0 71.0 92.5 248.3 129.6 167.8 103.5 259.0 90.3 228.3 146.3 260.7 182.9 87.7 80.5 142.2 68.1 213.0 121.7 101.4 87.1 190.4 121.6 223.0 130.5 257.4 142.2 286.8 97.1 134.7 106.1 260.6 167.1 98.2 101.9 183.4 101.1 251.4 164.2 135.5 83.3 71.7 89.3 233.5 173.6 252.2 85.9 106.2 90.1 68.5 24.9 233.7 176.6 216.8 104.0 257.4 156.7 242.9 104.5 208.4 136.9 128.0 72.3 142.5 114.5 190.8 114.4 85.2 66.0 260.1 138.5 97.2 88.2 110.6 104.1 212.9 120.8 259.0 159.7 248.5 100.7 151.8 94.1 238.6 126.6 225.9 132.5 230.2 109.5 119.8 99.3 141.9 105.2 250.1 94.8 193.7 78.6 285.4 174.4 232.3 132.9 106.5 92.8 101.3 101.4 195.1 91.0 187.5 115.1 248.9 128.5 193.3 98.2 222.1 117.1 207.1 134.1 202.8 103.0 104.0 102.1 258.4 222.3 205.6 129.8 204.3 121.1 229.9 161.4 191.9 105.5 232.2 107.8 122.0 94.7 191.0 119.4 304.6 86.2 118.5 73.7 81.3 99.7 124.4 59.7 225.8 160.8 240.0 90.1 60.8 96.0 214.9 60.6 201.3 86.4 209.1 75.9 247.3 160.5 214.5 91.5 227.4 101.1 161.0 107.8 260.1 145.4 114.7 106.7 133.1 102.3 229.7 127.7 283.1 99.8 188.6 93.1 114.8 88.8 210.6 135.7 242.3 118.8 230.8 138.9 203.1 134.8 291.3 127.6 276.9 190.7 176.1 112.5 243.2 169.4 108.4 100.0 218.2 125.4 138.1 75.0 250.7 110.0 108.4 98.3 251.4 126.2 222.0 115.7 87.0 98.0 188.7 110.7 244.9 118.0 234.9 170.6 212.0 112.4 254.5 113.1 223.9 136.4 219.1 118.0 112.6 103.0 259.2 167.2 137.3 105.0 85.2 87.2 255.6 131.8 184.0 117.0 175.5 79.6 129.1 84.5 107.0 89.8 51.0 96.6 238.6 149.7 212.9 119.0 144.4 63.8 260.5 144.1 129.6 109.0 145.5 113.8 221.5 118.5 169.4 104.5 237.1 98.8 207.0 134.3 89.4 73.7 233.6 143.7 249.2 114.9 242.8 120.0 142.9 90.4 107.7 69.2 92.1 77.5 95.3 97.6 240.0 163.8 226.9 157.0 252.7 110.5 200.2 120.6 155.8 113.9 105.1 103.3 267.4 183.0 100.9 95.4 217.9 145.7 174.7 91.2 175.7 114.3 262.9 143.4 131.8 67.8 185.8 101.9 235.5 161.2 241.1 117.5 194.9 92.3 122.5 106.7 173.8 98.5 94.7 95.0 262.9 194.7 168.1 111.1 313.3 115.0 135.5 112.2 78.2 69.9 142.1 109.6 226.5 112.4 214.4 131.7 239.0 67.8 243.3 174.0 230.5 83.0 249.4 141.6 151.4 101.6 90.6 85.7 213.6 85.8 159.7 109.4 201.6 116.8 133.0 112.7 129.0 86.1 96.2 98.0 160.3 94.2 137.0 109.5 212.4 119.3 279.5 167.7 183.5 116.4 273.2 186.2 220.4 126.4 244.6 89.3 246.5 201.5 132.7 75.9 208.3 102.0 216.5 134.5 252.3 130.0 209.9 140.7 212.3 99.8 223.9 72.6 231.3 114.2 187.2 73.7 71.0 75.9 229.9 149.9 142.1 112.5 287.2 178.5 178.8 104.4 230.7 141.2 199.7 121.9 100.5 80.7 206.1 90.8 216.8 102.8 248.7 171.8 238.1 141.0 211.9 134.6 259.9 157.2 184.7 98.2 215.7 128.0 193.5 122.3 164.7 91.7 215.5 117.9 109.0 101.8 237.0 83.0 142.7 78.2 250.6 159.0 244.1 173.9 324.4 174.5 238.1 159.3 296.2 60.9 152.8 90.6 198.4 131.5 212.7 112.1 250.5 131.6 229.6 119.9 235.8 175.1 155.3 96.6 221.7 148.8 223.9 131.1 224.9 134.4 219.3 150.7 204.4 116.8 245.5 128.3 291.7 210.9 234.4 132.4 236.1 91.2 250.0 152.7 216.4 147.6 240.6 161.5 255.5 138.4 221.0 110.3 295.3 139.8 101.0 92.8 229.4 131.2 221.0 124.7 110.0 93.3 221.2 135.0 271.9 146.1 219.9 103.1 248.4 155.5 120.5 46.7 286.7 118.5 298.9 116.0 250.9 122.0 157.8 90.1 254.8 102.1 105.1 89.8 240.6 116.1 110.9 66.0 241.7 156.0 232.1 147.8 204.5 94.6 146.7 69.6 244.2 170.0 203.6 116.1 230.7 130.1 225.3 77.1 246.6 98.1 198.8 122.1 216.1 146.9 135.0 58.4 190.3 107.3 75.5 69.2 234.6 152.0 254.5 161.5 101.9 89.5 192.3 96.3 200.0 109.6 106.4 65.1 217.6 71.0 105.2 89.0 201.6 134.0 52.3 86.7 183.4 113.2 135.0 67.8 77.1 94.4 235.3 124.3 182.3 120.3 137.6 111.8 194.7 123.5 192.5 121.5 204.6 124.2 208.1 121.5 131.9 78.4 109.5 101.3 293.0 113.7 199.2 85.8 171.9 108.6 59.4 75.9 230.5 91.1 240.6 136.5 254.1 118.5 151.8 102.7 207.3 105.1 184.1 116.7 136.3 93.2 231.3 123.6 204.7 125.2 205.1 119.5 252.9 77.9 235.2 96.4 242.4 85.7 241.1 130.5 216.4 104.9 124.7 88.9 139.2 113.2 244.8 134.3 221.0 137.4 200.8 117.2 242.2 136.9 235.4 146.5 223.2 133.2 145.0 97.8 86.8 68.1 179.5 102.1 237.8 86.1 243.9 128.6 222.3 128.1 158.4 73.2 226.6 146.7 196.9 72.6 259.2 95.3 248.3 207.2 158.9 108.9 240.4 156.9 275.9 173.6 152.1 42.9 255.9 174.0 177.0 110.7 280.4 51.6 235.2 92.5 113.0 103.7 159.4 92.6 90.3 98.2 67.4 86.6 244.4 191.4 184.5 79.2 138.9 107.8 160.2 81.4 251.0 59.7 102.6 96.6 206.4 102.8 221.4 142.4 220.0 124.7 154.4 94.3 261.2 147.7 324.1 84.0 139.1 100.8 141.2 103.1 122.7 88.3 220.5 131.6 280.0 172.6 217.9 103.6 216.8 137.5 166.4 109.8 109.1 41.2 242.3 78.7 78.5 88.4 78.6 30.8 227.0 106.7 63.3 92.0 225.0 135.9 259.2 163.9 98.3 72.6 98.5 83.4 185.3 121.3 251.3 114.1 248.1 153.1 92.0 98.3 254.0 132.0 253.0 129.6 165.3 81.1 229.4 154.0 217.2 55.2 101.2 71.0 163.6 113.8 276.8 205.0 209.4 111.1 129.0 93.7 128.7 111.3 263.4 171.3 217.4 150.6 275.5 181.7 293.5 156.0 235.4 129.3 220.0 117.0 134.8 109.2 231.1 162.3 229.5 160.9 256.8 165.3 142.1 97.0 203.2 130.2 244.0 141.8 230.5 123.5 222.7 156.0 141.8 96.3 96.9 90.3 220.6 116.4 87.8 87.4 160.8 111.1 273.7 142.5 145.3 101.8 272.8 112.4 295.3 164.1 204.7 130.7 219.8 110.2 208.1 122.3 217.8 129.9 156.1 82.8 262.9 199.2 153.7 101.2 143.0 46.7 206.0 119.2 115.6 84.0 203.4 100.7 232.2 161.2 188.9 111.4 199.4 129.9 255.5 138.1 208.3 116.7 252.3 128.3 233.3 161.5 223.7 83.8 165.2 96.9 287.2 161.9 275.5 138.9 258.5 94.7 255.5 177.3 248.7 106.2 181.6 72.8 97.8 92.0 261.2 162.2 238.1 62.0 205.5 106.2 295.3 127.6 163.2 114.7 137.5 104.7 244.1 176.2 265.6 126.3 260.6 148.2 237.2 200.2 194.6 110.3 224.3 102.3 263.4 203.3 133.6 79.2 253.8 125.3 168.3 113.1 243.6 148.0 186.6 119.0 143.7 112.5 225.3 145.6 197.1 79.4 161.4 111.5 219.8 135.7 90.6 92.9 258.2 140.0 64.7 56.6 267.0 148.8 143.8 104.2 216.0 133.0 210.2 111.2 140.7 82.0 221.7 142.7 210.2 109.9 206.8 100.7 200.0 125.1 251.8 180.6 119.0 99.3 158.7 82.9 197.2 92.9 176.1 101.3 243.4 192.7 240.0 121.1 65.7 86.7 189.4 117.1 208.5 102.8 171.2 78.0 255.3 159.2 238.9 173.8 159.1 74.6 241.2 131.8 241.6 152.4 211.2 122.2 68.3 55.7 204.4 115.7 204.0 109.0 102.3 92.0 150.8 100.9 262.9 88.5 256.7 200.1 77.3 77.1 246.1 157.4 202.6 112.7 182.8 121.6 231.7 145.9 259.9 177.7 121.3 103.6 221.1 123.5 289.0 147.0 246.5 160.3 266.9 178.5 135.0 92.5 145.7 99.3 76.0 89.2 185.3 122.8 217.3 124.7 146.5 101.4 172.1 113.5 189.6 79.6 205.4 116.9 209.2 140.0 210.3 123.0 118.8 99.9 262.9 133.5 211.9 111.3 242.1 103.8 107.7 55.2 155.6 111.9 128.6 87.7 258.2 153.1 180.7 103.0 284.0 139.4 236.5 169.9 167.2 109.9 205.0 135.1 275.1 105.2 115.8 79.6 182.8 109.7 249.1 168.6 91.2 56.4 229.2 156.1 195.6 117.6 194.1 126.3 160.6 106.0 187.0 100.7 151.5 115.1 214.5 85.4 259.0 157.6 243.7 103.1 258.4 226.0 209.8 129.4 107.6 100.1 237.6 167.2 234.3 166.0 127.7 103.9 276.8 137.1 145.8 109.6 259.9 176.0 206.4 102.1 234.1 138.8 125.4 106.9 159.4 86.0 205.6 101.6 229.6 128.5 208.1 92.4 79.2 90.2 149.4 114.4 90.6 61.8 225.5 139.5 290.4 116.4 183.3 82.9 111.8 79.8 271.9 134.4 218.8 141.0 282.7 156.0 61.2 95.6 132.1 111.7 137.0 87.0 236.5 114.0 113.1 96.2 257.3 130.4 151.9 91.6 233.1 130.7 120.9 85.6 255.7 193.9 259.5 96.4 171.7 74.1 181.3 76.4 165.9 105.4 176.9 103.6 137.9 78.1 69.5 93.7 214.7 147.7 249.6 95.7 246.5 117.0 250.4 218.0 231.3 150.4 233.9 162.3 267.0 153.3 198.2 120.4 270.1 133.0 148.9 81.7 128.5 107.3 187.0 123.5 241.2 179.2 175.4 103.5 192.8 114.0 162.3 78.0 124.4 103.7 291.2 105.2 246.1 101.0 198.4 113.2 203.4 131.5 122.2 100.8 235.0 144.7 209.9 115.9 171.7 111.2 142.1 114.9 117.2 91.9 107.9 95.7 183.9 111.7 312.4 92.6 206.1 136.6 202.8 124.9 225.7 83.9 229.1 129.0 248.5 132.6 320.5 106.0 215.5 109.6 284.5 177.2 264.2 111.0 114.7 81.5 236.1 157.1 226.1 148.3 188.2 88.5 224.4 62.4 176.4 101.5 111.4 102.4 235.2 143.6 215.9 89.4 215.6 112.2 196.5 99.4 107.7 50.1 169.2 90.2 235.1 93.0 87.5 96.0 232.4 134.4 274.2 137.1 108.6 49.4 249.6 122.8 204.1 133.3 242.6 85.3 260.5 174.7 251.1 152.9 291.7 139.8 233.7 123.2 291.7 102.0 264.7 146.1 281.4 207.8 185.0 80.2 123.9 101.0 216.2 98.4 135.9 111.5 198.4 124.9 308.8 160.5 218.8 94.2 244.7 184.9 117.2 103.7 138.0 108.4 248.3 125.2 220.0 91.4 243.6 86.6 136.2 78.8 193.7 48.0 141.9 108.3 169.0 104.3 213.7 121.4 83.4 63.3 120.7 105.4 131.0 111.8 255.7 76.4 257.8 129.0 126.1 94.8 263.6 71.0 134.1 78.9 211.6 119.6 235.2 148.4 175.2 118.6 219.9 141.2 251.1 148.7 277.3 156.0 231.6 136.3 162.2 110.4 234.7 125.6 147.4 81.4 218.0 138.2 257.3 126.5 119.6 99.7 223.2 153.7 244.3 134.3 94.2 55.2 89.0 98.7 119.6 50.3 198.8 116.0 294.9 111.0 109.9 97.6 145.6 111.8 157.3 47.4 229.7 111.7 304.8 101.5 204.3 114.5 222.5 83.8 40.3 62.7 215.7 115.0 180.8 82.5 236.7 111.5 193.2 109.1 231.4 123.0 140.7 113.0 156.0 116.7 150.5 115.4 227.0 129.8 219.1 105.3 174.1 75.0 249.0 169.8 239.4 124.7 83.0 96.6 233.2 122.8 224.7 128.9 255.9 166.1 257.9 151.7 217.5 89.6 144.0 73.7 238.0 152.7 277.3 109.7 269.6 160.5 198.8 128.8 159.7 114.1 117.0 102.7 233.4 147.1 222.6 99.3 215.6 113.9 230.1 163.4 186.0 107.7 89.0 100.0 179.9 96.2 255.4 144.8 111.8 66.9 141.2 103.0 192.8 82.9 187.2 114.9 138.8 100.2 247.1 105.9 162.8 101.5 244.5 184.2 219.9 150.5 155.7 106.1 160.4 113.0 168.8 98.2 191.3 117.3 68.5 97.9 251.1 188.5 216.9 132.7 216.8 122.7 218.6 134.8 236.8 77.1 248.1 186.4 251.1 122.8 228.0 153.8 226.1 118.4 253.7 146.0 191.2 61.8 253.9 122.8 257.3 78.9 163.6 115.9 242.5 195.4 247.1 165.6 223.2 139.9 224.4 143.0 119.6 54.6 196.5 89.4 122.3 106.1 218.0 111.8 60.2 75.9 132.4 110.8 256.1 171.6 160.6 108.0 193.7 104.5 213.3 142.1 210.6 124.8 271.9 221.2 176.3 115.5 239.9 149.8 182.9 97.1 129.2 94.8 169.3 90.3 249.3 120.4 192.5 89.5 163.3 83.8 245.3 139.3 299.8 172.2 204.2 108.7 129.3 48.0 63.3 74.1 206.0 126.4 216.3 76.4 107.2 83.8 262.5 190.2 269.2 122.7 256.6 96.1 198.8 111.5 269.2 163.2 246.7 178.1 121.5 88.1 229.9 154.2 194.8 128.0 128.6 69.9 238.1 58.4 239.3 128.6 224.3 97.8 248.0 110.0 168.2 117.6 252.6 102.0 159.8 91.4 310.2 115.0 236.3 122.9 153.3 111.9 163.6 67.2 221.7 77.1 182.6 96.7 231.0 108.0 225.4 122.1 147.3 85.9 147.4 116.0 234.5 183.9 210.7 103.0 132.5 84.0 219.6 104.0 257.6 115.1 232.7 106.2 228.1 161.4 234.4 157.5 249.9 180.7 255.6 130.9 114.8 96.0 255.5 103.7 182.3 120.8 164.4 101.5 106.2 102.0 257.8 169.5 241.5 147.7 193.0 75.3 219.8 113.4 168.6 118.0 176.6 119.4 107.6 98.9 290.4 150.2 203.7 107.4 206.2 115.3 102.5 75.3 126.9 91.9 133.2 79.2 173.8 114.9 265.6 138.0 280.9 119.6 220.3 132.0 150.8 114.2 240.0 162.2 231.8 124.3 190.7 108.3 261.1 118.8 264.7 204.2 263.4 123.2 252.4 102.2 263.8 167.7 103.7 101.2 223.6 110.8 244.6 155.1 219.6 91.1 271.0 126.3 247.7 155.2 217.6 67.4 250.4 147.7 177.4 113.7 259.3 110.0 200.4 121.9 208.9 115.1 141.3 114.7 232.7 110.8 228.3 86.5 194.4 111.6 128.6 99.4 283.2 138.0 146.1 85.8 212.7 119.1 117.7 106.4 218.0 147.4 239.8 125.2 264.2 186.2 101.2 47.4 206.6 109.8 211.8 75.0 238.0 107.2 226.4 103.5 125.3 72.8 238.1 190.2 231.0 165.7 207.9 118.6 202.9 89.4 122.8 67.8 235.7 105.6 250.9 154.7 272.8 154.2 211.5 119.1 213.5 124.3" fill="none" stroke="none" marker-start="url(#mp)" marker-mid="url(#mp)" marker-end="url(#mp)"/><path d="M495.2 159.2 480.7 154.1 472.7 133.7 380.2 147.2 567.2 187.0 446.2 113.7 396.5 133.7 422.5 115.9 491.3 189.3 455.8 161.8 527.0 147.1 460.2 153.3 491.2 194.6 524.9 153.7 418.8 198.1 468.5 191.8 424.4 166.2 461.8 121.8 493.2 219.6 455.5 120.2 438.2 193.1 551.0 169.7 571.3 172.6 484.8 156.8 489.0 160.7 480.3 151.5 523.6 127.1 533.3 194.8 466.2 128.0 571.7 187.9 539.2 154.9 491.1 199.6 487.5 208.1 506.2 139.4 435.5 114.3 495.6 130.6 485.5 137.7 498.1 128.6 479.0 167.7 433.1 125.2 466.0 134.0 549.7 167.1 543.4 206.3 412.8 152.9 456.5 126.5 456.5 131.1 551.2 191.5 512.5 169.8 511.3 150.0 504.4 177.5 591.7 198.0 444.9 160.6 444.8 176.8 432.3 192.1 544.5 144.2 483.6 124.6 484.4 120.7 508.4 181.5 441.1 120.6 460.4 117.7 467.4 167.3 504.1 136.9 540.0 136.1 559.6 207.4 475.6 131.7 443.2 107.8 538.7 144.6 541.9 137.3 522.6 161.2 458.6 114.3 591.6 200.1 573.4 165.3 504.7 155.8 463.1 214.0 432.4 177.9 550.9 164.0 467.4 162.9 436.3 172.0 463.2 153.7 465.0 137.8 529.7 151.5 448.7 194.0 541.8 202.4 455.4 184.7 510.9 142.4 493.6 161.8 558.7 172.9 466.2 164.4 432.8 205.1 553.6 138.4 489.5 164.5 443.9 212.7 553.6 156.0 557.8 148.7 434.6 128.6 567.8 178.9 455.8 167.3 525.9 176.2 523.7 199.4 535.9 231.7 449.3 145.5 569.2 162.8 472.7 186.7 557.1 161.8 454.0 136.5 522.8 188.4 551.9 181.6 469.6 124.6 520.6 215.0 467.1 135.3 446.0 136.2 508.7 168.6 497.5 163.1 478.9 213.1 484.4 172.8 470.1 121.1 496.7 123.5 498.0 138.8 464.1 149.2 467.1 122.2 424.1 133.6 425.8 117.6 486.8 177.0 524.5 208.7 464.3 166.5 564.7 178.2 543.2 165.4 567.0 169.3 487.5 149.0 395.8 115.0 535.8 163.8 591.5 227.4 484.8 136.5 455.7 206.1 567.0 175.7 500.4 149.4 423.4 115.8 509.3 190.3 496.5 211.3 518.4 139.9 468.5 122.4 422.9 135.2 470.7 116.6 479.5 176.7 519.0 147.8 452.5 147.9 537.4 165.6 535.0 142.6 476.5 158.5 442.6 252.1 472.1 154.6 573.9 164.6 464.1 121.1 532.0 202.8 449.8 132.7 514.3 125.9 578.7 192.9 507.9 146.2 488.2 185.9 427.2 106.1 480.7 171.4 560.5 181.0 473.4 151.5 435.8 205.6 499.8 155.9 526.4 129.6 451.3 146.2 519.7 131.1 423.3 175.7 461.9 154.7 567.4 205.4 446.8 165.0 452.9 143.9 449.2 124.7 570.1 172.5 445.3 151.2 460.5 153.1 530.0 176.0 475.2 144.7 437.2 152.5 453.7 123.2 501.5 160.5 476.0 204.7 447.9 151.1 414.5 120.9 456.8 128.6 457.3 152.3 455.1 146.1 554.2 174.9 442.9 151.4 427.9 139.7 521.3 133.3 495.7 191.3 522.6 131.8 478.2 165.9 483.4 126.8 555.3 143.0 532.2 168.1 460.0 139.9 523.6 143.0 480.3 117.6 508.1 156.4 486.9 152.8 522.4 194.4 532.1 182.2 455.5 111.4 432.7 126.4 435.4 170.2 471.3 120.2 475.0 140.8 513.8 174.3 453.0 145.3 525.4 154.3 459.1 124.9 454.7 135.3 476.5 177.7 450.8 180.0 511.7 177.6 516.7 123.4 545.3 148.5 500.1 190.3 482.4 135.0 516.9 161.3 527.1 138.3 548.1 156.1 559.9 170.8 453.7 163.8 483.7 175.4 588.8 191.9 472.5 164.2 501.4 161.7 510.0 133.8 509.7 139.1 492.8 146.1 449.4 154.6 503.7 143.0 577.1 196.0 440.8 194.0 536.3 193.2 526.1 157.2 427.3 205.6 515.5 138.2 531.8 184.4 487.2 149.7 499.4 178.0 566.6 153.1 537.4 147.4 436.4 141.5 549.4 181.2 434.3 168.0 545.2 178.8 450.1 135.3 431.8 134.9 530.0 134.5 508.3 144.4 573.0 158.9 558.4 160.5 461.0 114.6 470.1 139.0 495.5 172.2 455.7 134.5 519.2 208.8 472.3 124.6 531.8 167.8 505.1 156.3 534.7 181.1 514.7 158.5 528.1 140.8 420.7 163.0 481.3 157.5 420.6 144.6 512.6 174.9 510.2 122.3 530.9 129.4 457.5 121.4 513.5 175.6 455.4 151.6 482.9 173.2 429.0 127.8 419.0 139.1 516.4 210.1 506.3 181.5 497.8 204.9 452.8 118.2 587.6 189.2 584.3 205.7 527.2 171.7 561.7 161.6 453.3 154.8 563.2 155.0 439.8 191.1 531.7 151.9 467.9 132.2 499.4 134.6 439.7 105.7 472.3 177.1 439.4 139.9 443.3 206.1 537.5 138.7 543.7 161.6 545.0 142.9 429.4 165.2 552.1 226.5 407.5 148.5 458.6 153.8 454.6 140.7 445.6 185.8 496.1 137.1 487.8 142.7 485.7 157.7 453.7 181.5 457.7 145.1 585.8 203.1 451.3 166.4 461.7 192.0 417.6 169.8 485.8 153.6 453.8 146.5 473.9 136.0 458.3 146.4 509.0 163.2 412.3 128.4 422.8 126.2 475.9 194.6 473.9 217.8 551.9 150.7 584.6 231.3 475.5 162.8 515.7 137.9 471.1 144.9 441.4 119.5 508.2 170.5 547.5 149.0 520.3 131.2 425.3 190.5 522.5 182.0 459.4 222.4 504.7 177.5 531.8 170.9 506.0 171.6 456.7 175.3 509.8 214.6 445.2 120.5 529.8 171.2 454.8 193.1 549.8 212.2 505.9 146.1 451.0 133.8 509.5 149.2 451.3 169.1 449.9 143.9 441.4 120.4 499.1 180.1 516.4 159.6 414.8 151.3 552.9 190.1 468.1 171.6 468.9 178.9 459.1 123.1 503.8 140.4 465.0 208.7 518.9 150.8 482.3 158.7 453.9 127.2 509.0 145.6 442.1 123.4 475.4 148.5 535.4 154.3 452.7 112.4 501.4 130.2 465.7 137.2 465.1 147.4 531.5 142.1 504.6 172.4 445.6 145.2 448.6 155.8 546.0 171.6 526.5 154.8 557.7 169.5 497.4 162.4 471.9 140.2 496.4 160.0 439.5 169.5 527.6 207.2 488.7 193.1 449.5 158.5 502.4 122.0 458.6 165.2 452.8 134.1 504.5 151.1 437.9 167.1 511.9 177.9 507.0 155.6 485.3 151.9 506.3 138.7 457.8 191.1 516.9 128.4 554.1 172.9 424.3 129.1 525.5 157.9 491.2 138.4 439.2 130.7 559.6 149.6 584.6 178.4 492.0 165.7 439.9 120.9 475.6 172.7 489.8 140.8 493.2 222.4 481.3 198.5 461.7 198.2 474.6 142.4 428.0 172.3 567.3 161.5 394.2 128.5 429.2 177.3 489.1 123.4 471.4 165.4 542.3 150.5 442.9 144.0 449.5 169.9 444.3 154.4 453.7 183.1 488.1 170.1 485.6 153.1 464.9 137.9 518.9 145.3 431.3 144.4 467.2 182.8 442.9 122.7 531.8 162.2 444.0 154.9 419.9 167.8 494.8 161.8 499.5 153.3 447.8 115.1 566.1 182.2 497.1 137.5 521.9 188.7 573.5 183.9 476.7 136.0 473.3 188.8 487.0 166.1 498.7 155.1 479.5 188.3 448.4 160.1 493.8 184.4 538.8 186.1 508.6 126.3 550.3 170.2 552.2 140.5 543.4 153.2 444.0 160.4 541.6 144.3 495.9 163.2 483.0 136.7 435.5 115.5 582.2 195.6 456.9 166.7 502.6 177.1 515.6 149.7 550.6 157.4 543.8 167.1 450.0 140.1 535.7 157.4 461.7 129.9 492.5 149.3 487.2 147.2 421.2 165.2 489.4 206.1 500.0 181.3 460.7 115.8 506.9 156.0 486.8 123.4 446.8 131.6 445.8 131.4 507.9 159.0 418.9 149.1 455.7 200.1 561.5 179.8 522.7 135.6 463.0 180.0 509.4 178.6 577.5 191.9 482.0 142.1 495.4 133.4 578.8 164.4 498.7 224.8 576.9 177.5 457.5 138.2 449.2 127.5 468.2 146.2 454.5 171.9 489.9 151.2 477.6 123.5 447.4 135.9 441.6 179.3 515.0 130.3 456.2 128.1 579.7 180.2 488.2 142.9 515.6 128.5 451.4 170.3 500.1 195.5 539.5 144.4 455.1 116.5 463.9 162.5 436.4 154.6 490.3 143.6 497.6 157.3 536.6 157.8 553.3 203.3 537.8 158.0 545.4 134.9 522.1 160.3 553.5 165.0 473.8 128.1 505.6 194.4 486.7 158.6 461.5 122.7 433.5 176.8 529.7 162.4 497.6 123.7 490.6 129.3 454.8 203.6 473.7 205.8 509.0 155.1 457.4 117.2 465.2 153.4 502.0 175.7 516.0 128.1 481.8 163.2 468.1 163.6 495.5 192.8 494.6 212.2 522.4 238.2 532.6 147.5 496.5 172.1 461.0 170.6 506.1 224.8 468.3 173.1 430.5 119.9 484.5 202.9 487.2 187.6 448.6 120.2 495.9 134.6 482.0 148.3 418.4 167.2 477.5 157.7 564.2 192.4 545.9 169.6 446.1 172.1 487.1 121.9 461.1 150.0 457.6 145.3 451.0 151.0 488.4 119.7 484.3 147.6 540.0 196.9 432.4 143.8 430.8 195.6 439.0 133.9 523.1 135.3 579.6 175.9 480.2 139.4 488.4 127.5 503.0 137.4 413.4 127.5 470.4 114.0 489.2 177.6 469.4 181.0 536.6 150.1 425.9 149.7 436.0 156.8 517.1 198.2 509.1 161.8 513.4 126.9 469.3 188.9 475.2 117.1 460.3 172.3 466.8 162.8 514.9 149.2 487.2 160.3 503.6 165.6 445.7 158.4 476.0 116.3 510.2 153.1 514.4 131.9 442.9 168.3 484.0 201.7 520.8 185.6 544.5 137.2 490.7 147.8 431.8 150.3 492.8 188.9 445.4 168.5 491.7 207.9 476.1 185.0 477.8 173.6 443.0 116.7 424.1 162.1 442.3 126.9 549.6 180.2 561.9 223.8 423.8 187.6 461.4 148.4 476.1 168.6 487.9 136.8 427.0 155.5 491.1 166.5 477.8 191.9 440.9 138.2 545.2 215.9 515.3 137.4 476.5 143.2 443.4 130.2 565.1 191.8 429.2 134.7 514.5 152.8 542.3 182.1 422.1 140.8 497.6 132.9 580.9 215.9 453.4 133.3 451.9 155.8 441.9 108.9 590.2 246.5 508.6 159.4 426.3 124.9 460.8 177.1 469.3 160.4 468.3 158.1 426.0 128.8 464.9 161.9 531.2 182.9 471.7 123.6 492.9 125.3 501.7 142.7 514.1 176.8 538.9 128.9 517.3 204.2 458.5 143.9 545.2 143.1 522.9 238.6 536.1 134.0 512.5 139.5 531.0 187.9 456.2 161.4 499.3 193.8 504.5 146.7 542.0 174.6 506.2 129.0 412.8 106.4 513.8 143.4 475.0 158.4 498.1 175.9 511.4 181.4 524.8 191.9 452.1 165.2 454.1 162.0 500.6 192.3 457.5 112.6 501.1 169.1 557.8 199.6 460.3 163.7 467.8 115.0 448.9 158.7 565.9 166.2 481.5 140.4 497.9 174.9 435.1 121.4 441.3 157.9 483.2 132.6 427.8 150.7 548.2 182.1 533.6 152.2 490.4 141.6 509.4 159.2 449.3 129.1 431.2 144.0 508.4 140.9 464.9 157.5 475.9 190.3 548.1 139.0 517.9 162.9 489.4 130.6 457.8 124.7 506.4 169.6 507.7 162.1 479.2 153.5 529.9 179.0 527.3 151.0 462.3 160.8 514.9 159.1 495.9 152.2 450.3 156.9 498.8 151.4 473.9 130.6 433.9 143.3 486.7 167.6 535.3 135.1 540.3 148.7 443.6 107.3 423.8 189.1 574.6 197.9 557.5 165.4 520.9 151.3 499.8 161.3 500.8 170.1 563.8 166.1 429.6 142.1 490.2 122.5 514.1 182.2 530.1 173.5 461.1 175.1 476.3 151.1 500.9 135.1 565.5 164.0 498.7 143.1 473.0 153.1 501.3 200.6 460.9 134.5 508.6 186.2 500.5 179.7 450.1 131.2 464.1 195.8 454.8 124.4 498.7 122.0 451.6 166.9 480.4 154.1 453.3 167.1 494.6 130.8 412.7 134.5 436.3 161.6 425.8 152.4 476.2 190.0 508.8 180.7 538.4 175.7 513.6 159.5 536.1 160.4 449.4 178.9 421.8 154.3 438.9 155.7 521.8 133.6 581.3 208.6 539.8 184.7 458.8 119.3 516.0 154.1 444.3 165.8 513.2 140.1 418.4 163.8 536.5 199.9 463.4 178.1 544.2 159.9 541.0 223.3 510.9 213.1 467.3 166.6 448.6 147.1 493.9 131.2 431.6 171.9 572.1 194.7 566.6 176.5 470.0 151.2 504.5 150.8 445.1 138.3 535.2 181.0 419.5 170.8 442.6 114.9 513.5 144.8 566.2 175.3 537.2 192.5 435.1 149.7 513.1 160.3 518.1 123.9 427.3 110.4 518.6 162.7 443.2 146.5 511.8 170.0 469.1 155.4 548.0 153.0 496.7 210.6 530.9 130.2 470.0 213.1 477.2 120.9 499.9 159.3 514.6 136.3 537.7 133.6 472.3 118.5 505.4 178.2 443.6 171.3 454.8 150.8 548.7 197.3 509.9 137.8 538.0 159.6 423.8 154.4 505.0 189.7 491.8 134.1 461.5 135.6 459.3 185.9 575.3 184.0 462.8 190.7 457.1 159.2 493.7 123.6 462.0 123.1 569.8 201.1 487.5 144.1 512.2 142.8 486.9 131.9 452.2 121.0 440.5 187.1 448.9 133.5 473.4 168.9 437.6 143.7 526.6 151.4 543.2 194.4 408.1 150.9 467.2 126.7 453.7 164.2 526.1 180.2 507.7 143.9 533.0 202.5 455.4 129.4 489.2 204.0 468.9 128.9 553.0 192.4 474.3 243.7 505.9 196.8 455.7 196.1 490.0 132.7 566.8 163.0 562.9 158.2 468.5 141.3 440.0 142.8 491.8 200.0 432.4 213.6 524.6 158.6 486.4 141.7 532.3 191.1 510.9 138.7 441.5 163.0 495.9 158.1 448.0 127.5 503.0 136.0 445.7 141.1 438.5 125.2 460.6 132.5 520.5 166.5 444.8 195.1 446.0 152.0 561.4 183.1 448.9 122.7 456.2 154.1 516.6 149.9 541.5 194.8 448.2 145.4 537.9 153.5 416.8 194.0 438.8 134.6 503.6 158.0 480.9 125.5 440.8 205.6 465.4 154.3 450.0 135.2 445.9 128.2 441.0 164.5 501.2 165.6 520.6 174.8 518.3 212.2 450.0 174.5 440.6 157.7 467.0 149.4 491.0 130.5 533.5 137.3 492.9 159.3 532.5 142.6 428.7 161.8 561.8 145.8 534.0 160.0 494.1 152.9 463.6 139.4 467.5 136.5 394.6 143.9 465.0 186.7 504.2 189.8 479.3 146.1 499.1 204.2 499.6 153.5 472.5 156.7 532.5 198.2 427.7 197.1 455.8 136.1 507.7 139.4 579.5 211.7 480.0 148.6 492.4 185.4 441.9 142.7 491.6 162.3 548.7 205.9 437.5 114.7 466.9 175.3 430.4 122.4 462.2 162.1 459.5 173.7 505.0 152.1 458.2 136.0 437.1 143.3 480.2 150.1 516.6 166.2 448.7 161.3 480.3 234.0 444.3 126.4 500.6 153.0 448.4 163.8 457.0 128.6 529.1 160.9 520.4 164.3 462.4 117.1 510.1 160.8 543.8 136.7 492.2 146.8 426.3 119.2 541.4 184.9 439.9 129.1 478.3 152.4 516.4 126.4 506.1 148.8 444.4 162.7 446.5 151.6 429.3 176.8 515.4 127.8 430.5 152.1 517.0 149.7 534.2 126.2 471.6 193.0 503.7 151.0 489.2 164.8 439.5 176.0 515.8 164.0 577.6 176.8 515.0 146.0 463.6 123.8 486.7 151.0 544.4 203.2 488.4 152.3 430.0 147.2 463.0 116.3 499.7 129.8 463.4 154.1 513.3 138.8 454.9 146.8 464.0 140.4 436.6 129.9 468.5 122.3 504.4 154.8 489.4 155.2 510.0 124.5 457.0 112.9 453.9 213.1 500.5 165.2 486.4 143.2 551.9 163.7 576.1 228.9 555.1 157.6 547.6 133.3 588.3 238.6 547.1 208.0 508.9 190.1 538.5 129.8 451.2 109.7 474.4 167.3 485.6 173.5 547.4 144.7 485.8 185.0 474.4 136.9 460.9 131.3 488.9 160.3 485.1 148.6 469.6 160.7 558.3 172.6 468.8 151.6 518.2 200.3 436.5 121.2 484.3 188.2 445.5 130.0 436.4 122.1 519.1 136.6 439.8 155.3 543.7 140.3 546.1 137.6 500.9 141.3 455.2 126.3 514.1 140.1 573.6 190.1 496.7 179.1 526.8 142.2 452.0 171.1 516.2 149.0 491.0 153.9 520.1 148.8 446.8 193.1 515.3 160.5 520.2 162.4 415.1 129.6 479.1 169.1 480.1 139.4 561.8 197.6 462.5 142.5 447.5 107.6 557.6 160.3 551.9 163.2 496.5 138.2 456.0 114.0 487.9 210.4 582.7 235.4 427.7 256.1 432.4 130.2 511.3 161.0 534.4 187.6 517.9 156.1 465.4 233.5 486.9 152.8 464.4 137.3 452.0 151.4 474.0 132.3 468.2 178.2 527.2 153.5 506.4 189.4 560.9 158.1 529.8 126.8 490.6 122.7 496.1 136.0 439.3 226.1 529.7 125.1 558.6 167.8 425.3 107.9 516.9 156.2 445.4 168.7 401.6 124.8 541.3 139.4 541.8 166.0 509.3 154.9 574.2 166.8 434.2 106.0 525.4 156.1 512.0 151.7 481.6 134.8 512.9 203.8 491.3 146.3 418.6 176.0 468.9 137.2 472.5 179.0 422.3 118.5 400.2 148.8 555.4 150.6 449.3 167.4 532.5 142.6 530.1 152.5 510.3 141.8 535.3 148.4 483.9 240.5 564.8 178.7 433.1 146.5 426.1 148.9 479.0 187.0 467.2 150.8 454.5 149.0 485.0 156.0 469.7 117.5 476.8 189.1 449.6 141.1 445.4 137.5 427.3 161.7 565.4 151.5 456.8 156.4 489.6 130.7 537.2 150.5 478.5 153.4 437.0 226.6 432.1 149.0 508.0 184.4 431.7 122.4 412.1 150.6 432.4 178.5 498.8 159.6 487.4 150.7 457.5 144.0 407.9 139.7 510.7 190.9 499.6 169.2 450.7 163.5 475.2 138.9 439.7 142.9 431.7 151.8 513.7 146.4 528.5 137.9 511.5 167.1 464.6 145.2 478.4 126.3 530.8 127.6 473.3 144.9 517.8 183.1 474.2 176.5 429.5 171.2 482.3 123.8 553.1 153.0 485.3 169.8 494.6 142.1 556.5 163.2 446.3 208.1 444.1 147.0 465.9 153.3 525.9 125.9 568.7 164.2 510.1 191.4 446.2 125.3 441.9 123.3 555.6 175.3 466.8 149.6 447.8 183.7 566.0 173.7 548.9 195.6 528.7 173.5 445.2 137.0 529.5 144.2 476.8 184.9 517.5 130.1 439.3 139.1 523.1 160.7 467.8 128.8 456.0 148.5 528.9 129.1 458.6 163.4 466.8 135.3 488.8 136.8 537.2 142.3 483.8 150.6 487.0 161.7 462.4 143.3 519.1 165.7 484.9 132.8 437.4 183.9 439.7 153.5 451.9 155.5 438.3 128.7 552.2 151.1 532.6 175.0 423.4 120.6 550.1 159.5 475.3 158.0 501.9 124.8 472.0 177.5 467.2 132.3 538.2 135.5 492.3 131.2 527.8 151.7 468.2 122.8 449.3 191.1 423.4 126.2 447.3 129.5 446.3 222.0 503.8 149.2 529.3 136.0 422.8 150.7 501.2 150.5 410.2 162.3 433.4 156.2 518.8 157.3 464.8 191.9 438.6 186.1 545.4 187.5 457.6 122.0 529.2 167.1 568.7 180.5 495.1 123.6 474.1 180.1 420.1 162.4 479.5 144.9 470.7 202.5 472.6 177.1 440.6 119.4 413.1 139.4 584.5 183.5 528.3 131.0 540.0 218.7 464.3 198.2 497.7 171.3 472.5 121.9 439.0 147.7 557.3 158.9 496.7 138.3 506.7 154.7 471.2 141.2 460.1 114.0 465.3 151.3 531.3 130.9 476.6 135.7 505.1 142.1 401.7 211.8 517.5 153.1 450.6 154.2 430.7 146.9 567.9 156.8 532.7 190.7 498.6 132.6 458.7 206.1 555.2 160.6 455.0 137.6 517.2 197.6 447.7 149.4 435.6 184.9 518.2 149.0 471.2 136.4 447.3 137.6 442.5 145.2 543.8 215.0 462.3 143.1 504.3 127.6 494.9 181.0 510.6 165.8 471.7 157.7 431.4 219.1 467.2 154.0 468.5 123.1 471.0 209.2 462.4 170.5 434.2 123.7 447.3 138.4 528.5 127.8 562.8 158.2 528.7 150.9 519.3 160.3 485.4 152.7 493.8 155.0 463.4 123.1 567.2 185.3 422.6 213.1 455.1 135.9 486.5 122.0 495.3 133.1 510.0 123.3 471.2 147.0 478.5 126.6 548.9 165.5 488.3 177.3 432.4 141.7 463.6 153.0 582.4 215.2 426.7 113.9 565.9 172.5 451.8 143.1 551.7 151.6 485.5 128.7 538.3 134.6 552.9 201.6 491.4 153.8 485.0 171.3 572.7 161.6 529.2 167.8 434.9 107.2 452.0 133.7 570.2 197.7 520.0 144.4 519.2 152.3 447.5 124.8 523.4 131.3 492.5 128.1 529.7 169.2 479.7 154.1 433.6 114.7 527.8 186.6 454.0 126.0 572.4 181.2 548.5 176.5 562.1 150.6 508.6 128.7 462.4 170.6 406.5 122.4 455.4 154.6 502.4 174.6 506.3 128.8 510.5 122.4 430.4 162.5 466.8 171.0 513.4 177.9 542.7 174.9 423.9 131.8 474.9 132.4 413.1 179.8 452.9 177.0 417.6 156.1 488.4 120.0 537.2 137.0 506.2 199.5 428.8 150.4 494.4 187.5 549.7 170.3 523.9 161.7 528.3 182.9 447.0 215.9 533.4 180.6 486.3 224.2 505.0 180.9 434.5 108.4 440.4 147.8 475.6 117.8 421.6 126.8 554.6 159.2 423.7 185.7 560.9 214.0 404.7 124.8 452.3 126.4 489.1 179.4 466.1 155.0 560.9 158.8 482.4 139.9 511.9 132.3 478.7 147.1 470.1 148.9 467.0 160.4 501.1 129.3 522.8 203.8 413.0 128.0 520.7 150.2 524.1 170.5 501.1 194.0 405.6 132.3 491.9 135.8 460.5 119.6 417.0 163.2 496.7 138.8 431.9 128.6 470.3 164.7 417.3 198.1 480.2 133.1 532.7 170.9 466.2 135.0 490.7 154.1 473.6 177.1 519.8 129.0 493.9 137.7 525.8 160.2 549.0 138.4 541.8 179.8 556.3 150.3 485.2 150.3 570.2 223.8 447.0 165.4 515.2 126.8 485.7 201.4 477.7 129.1 544.8 148.6 488.7 137.4 566.9 182.1 541.3 201.7 535.9 185.6 519.0 241.4 488.6 134.9 470.6 151.9 526.3 149.8 533.6 159.1 438.3 120.3 553.6 165.6 527.7 173.6 431.4 249.6 530.2 132.2 486.0 120.3 519.8 148.7 428.8 195.1 466.8 118.6 521.7 161.5 566.3 151.6 574.8 179.7 437.9 160.3 489.5 134.3 477.1 125.3 451.1 137.9 499.1 151.2 549.0 178.4 559.4 143.5 525.1 162.7 431.5 172.2 526.3 167.8 413.5 134.9 419.9 137.3 567.7 159.5 481.0 121.0 493.9 133.7 448.5 126.1 492.7 170.0 453.2 130.4 481.8 143.1 439.7 136.2 446.1 114.3 500.7 144.2 497.8 124.5 574.2 170.5 497.9 164.0 393.7 104.8 484.6 177.3 497.5 124.4 503.3 182.5 539.8 147.6 478.4 134.0 493.7 151.5 543.8 154.1 508.5 130.1 500.0 140.8 421.4 154.1 527.8 142.6 470.3 208.2 522.2 126.2 505.2 129.2 418.1 150.1 496.7 190.7 428.8 164.0 570.1 160.5 477.8 195.5 459.4 168.9 498.3 127.5 422.6 146.8 438.9 131.7 437.8 196.1 481.1 157.8 524.6 198.1 469.4 181.7 490.1 147.8 539.2 138.2 535.9 197.0 428.9 164.9 496.6 183.9 488.1 134.7 443.7 172.0 478.9 169.2 532.7 168.5 538.6 202.1 426.3 211.8 441.7 203.6 445.8 211.3 491.0 138.9 524.6 126.7 463.3 138.3 523.8 171.4 574.5 162.6 437.8 155.9 440.9 124.0 508.3 134.5 561.6 157.4 538.1 130.1 497.2 151.8 448.8 216.4 446.9 183.7 458.7 148.9 484.1 161.9 492.7 193.1 509.1 144.9 458.7 195.1 525.2 178.9 539.9 160.5 464.0 151.1 518.4 145.4 503.0 151.0 427.9 139.2 564.4 185.7 500.1 154.5 505.4 199.5 448.0 170.3 492.7 133.1 538.7 128.5 531.2 174.9 474.2 173.0 499.5 136.1 407.5 115.4 541.3 133.4 426.7 150.4 492.5 123.0 443.2 137.6 460.7 167.5 540.6 178.0 450.8 144.7 493.9 186.5 489.1 155.2 455.7 111.0 488.2 121.4 569.3 182.2 474.9 132.4 539.8 157.3 487.3 179.1 449.9 147.2 465.3 112.6 452.8 162.4 525.2 162.4 439.1 131.6 497.0 154.8 500.6 157.9 482.8 133.3 495.1 153.9 470.0 173.5 483.2 178.5 526.3 179.0 556.2 171.8 432.1 115.5 529.0 133.1 464.6 159.2 494.1 154.8 454.4 122.0 455.8 138.4 441.6 133.9 455.5 164.3 493.5 124.1 563.5 153.6 505.1 124.5 508.3 163.0 453.4 131.6 559.9 164.2 468.5 158.5 542.6 150.8 577.0 164.4 445.4 128.0 531.1 167.3 466.4 193.7 566.9 168.3 457.0 167.5 460.0 124.1 495.1 158.9 415.9 119.0 563.2 186.3 517.7 183.2 429.2 127.6 403.5 135.5 536.4 165.0 447.2 137.7 566.7 164.6 478.9 217.2 486.6 142.3 466.1 134.4 440.0 135.0 453.8 181.0 485.9 146.7 464.0 140.1 557.0 153.6 534.2 167.3 467.8 178.3 481.0 158.7 546.0 142.4 456.3 119.1 504.6 122.1 465.6 143.1 504.4 145.8 454.9 145.3 476.4 127.7 489.7 162.3 491.7 204.1 489.7 139.3 438.8 157.2 499.8 141.6 494.4 158.4 543.7 147.0 463.2 116.6 546.4 143.9 519.2 181.2 447.6 217.8 484.3 163.0 515.7 197.5 492.5 201.8 502.2 162.3 513.2 240.0 497.2 121.2 421.0 143.2 454.8 252.1 456.8 198.1 479.7 131.6 422.3 183.0 480.8 178.5 468.4 181.6 484.2 121.2 490.9 217.8 466.5 132.7 460.8 130.7 515.3 139.1 414.9 155.0 444.7 173.9 461.0 184.1 452.8 138.9 571.6 171.4 454.5 122.9 453.9 121.1 507.7 139.4 493.0 147.1 427.3 155.9 478.1 148.8 505.3 130.0 535.7 162.7 450.7 182.4 523.6 167.8 578.3 179.2 549.8 164.2 566.2 191.1 534.1 144.3 492.0 135.2 533.9 206.4 496.2 123.4 480.1 199.3 559.4 155.0 518.4 136.2 456.8 138.0 481.5 168.0 439.6 154.6 562.6 156.5 514.4 200.6 481.9 128.5 478.2 155.4 514.0 145.4 465.5 143.2 551.4 190.9 458.2 180.6 501.5 152.0 501.3 154.8 505.8 137.8 501.7 148.8 530.9 148.5 442.3 191.1 473.0 123.3 427.2 137.6 479.8 193.3 532.1 153.0 493.0 194.7 544.4 168.3 480.2 130.0 451.5 115.7 450.6 174.2 511.3 165.6 426.6 118.1 443.3 120.8 462.7 163.5 493.6 123.8 466.1 146.4 396.8 108.2 466.2 136.0 449.8 159.5 576.0 175.4 458.2 159.8 460.4 171.6 516.9 136.7 467.2 147.9 408.4 120.6 475.5 124.1 547.0 141.6 481.8 152.9 505.8 183.1 451.3 122.4 488.7 171.5 494.9 185.5 467.1 180.0 465.9 190.2 500.9 191.1 524.2 138.5 556.7 163.4 570.5 158.6 445.5 162.0 539.1 185.3 557.4 186.9 416.8 134.1 494.4 169.5 443.8 141.8 486.2 181.6 409.7 214.2 533.6 174.5 517.4 180.0 496.6 132.0 416.2 119.8 453.3 163.6 486.5 121.3 518.2 139.6 573.9 165.5 512.0 159.3 528.4 151.0 504.0 198.9 442.7 115.6 525.0 167.7 505.8 210.1 461.4 125.0 444.7 127.3 457.0 136.5 553.9 154.6 482.0 137.6 445.1 122.5 511.9 138.4 462.5 201.9 500.4 171.2 449.3 119.7 473.5 172.4 488.0 161.4 472.8 119.3 451.0 117.4 466.6 117.1 402.9 127.6 564.3 149.2 495.2 151.8 572.8 200.5 499.9 194.2 580.7 211.3 441.5 159.5 453.9 124.4 448.6 137.6 485.8 133.9 463.8 190.0 447.7 172.2 472.2 152.2 561.7 148.8 473.5 122.2 510.8 138.9 544.4 170.5 574.9 185.7 442.2 153.7 415.2 167.1 446.0 136.4 490.4 194.1 561.9 216.8 444.0 134.6 463.8 144.2 441.6 182.3 429.6 184.1 531.8 149.1 441.3 160.9 559.2 157.1 431.4 235.4 513.2 207.4 471.4 153.0 536.5 138.3 517.2 172.0 441.1 217.2 475.4 175.6 518.2 206.6 524.4 165.4 490.2 123.4 485.6 144.8 497.0 133.8 432.4 116.8 485.1 146.8 495.6 157.5 448.4 153.0 518.4 141.8 452.7 145.7 501.2 129.2 510.4 137.4 526.7 167.5 487.8 149.1 492.7 149.2 549.5 158.9 510.1 132.3 534.4 173.0 478.8 147.7 507.3 197.8 419.8 118.0 458.0 133.2 549.8 149.2 508.6 129.4 485.6 123.1 491.4 139.1 558.7 157.0 461.0 153.0 490.9 184.4 539.6 176.6 478.9 163.2 455.6 131.4 455.5 121.7 449.6 125.4 480.5 170.2 487.5 185.9 469.8 156.8 474.0 166.5 430.0 117.4 538.4 176.4 503.7 136.4 488.5 134.2 571.8 157.9 498.8 130.1 484.0 162.3 516.2 146.0 497.7 150.8 496.4 124.4 468.9 147.0 587.9 185.7 460.5 149.8 497.0 139.9 528.7 155.9 522.7 131.0 513.7 132.8 400.2 137.4 518.6 169.1 492.2 127.2 485.6 150.1 493.9 170.2 504.0 128.1 496.6 133.8 501.7 141.1 570.2 188.7 441.1 179.6 485.6 155.5 461.2 143.0 489.5 144.8 476.1 126.0 538.3 211.3 563.5 151.9 489.5 171.9 523.9 160.3 461.7 146.5 498.1 171.5 474.7 133.0 496.3 185.2 537.1 133.0 422.5 142.5 429.6 134.2 518.5 136.8 554.5 192.4 417.8 201.6 530.4 136.1 533.1 139.1 535.5 174.0 448.4 160.7 463.5 200.9 491.1 192.2 445.4 128.5 522.8 170.2 418.5 156.1 498.7 122.0 462.7 120.7 462.3 137.6 445.1 183.1 477.3 116.3 444.9 181.2 470.7 209.6 540.6 161.0 565.0 153.2 492.6 163.9 574.6 176.2 469.1 176.1 479.9 137.6 409.7 144.8 504.0 173.3 449.8 139.5 475.3 130.4 527.5 170.1 520.0 155.2 487.8 158.5 492.6 191.4 453.5 157.2 499.9 123.8 496.2 141.8 495.7 158.0 537.9 144.1 445.7 119.2 576.1 167.6 526.9 126.3 469.1 127.1 492.4 169.4 519.1 137.0 448.6 108.8 423.1 178.9 422.1 117.2 457.4 160.3 501.2 178.7 461.0 112.8 528.2 169.3 473.9 130.2 491.0 167.3 416.1 166.9 438.5 128.3 481.8 147.4 407.5 134.2 510.0 131.5 463.0 161.1 454.1 145.4 542.6 199.7 540.8 134.5 487.9 164.7 475.9 136.8 455.3 153.9 473.2 141.6 459.5 119.3 553.0 178.0 519.5 136.4 554.0 144.5 510.8 208.7 523.4 129.7 442.4 173.5 520.2 181.5 401.1 211.5 496.5 153.8 469.9 132.2 457.8 203.1 487.2 154.7 518.2 138.6 508.5 138.0 471.1 154.8 535.2 176.3 508.3 136.3 449.0 155.1 464.1 129.4 450.4 214.0 414.5 153.5 450.8 144.5 493.7 134.9 532.6 163.1 510.9 123.5 441.9 174.1 477.5 235.4 577.8 169.8 507.8 190.7 433.1 126.4 481.7 123.1 542.3 144.3 405.3 126.7 457.5 128.2 527.5 141.5 542.4 173.6 461.2 184.2 527.1 154.3 409.3 197.0 430.4 133.9 451.6 131.2 447.7 140.6 477.2 135.0 450.8 125.2 439.3 198.6 496.2 126.1 521.8 180.6 497.6 155.3 433.1 162.5 423.7 119.2 479.1 137.9 494.7 168.4 490.0 204.0 403.8 160.9 555.7 199.2 532.7 131.0 467.9 158.8 535.5 181.3 469.1 136.3 520.3 195.2 578.8 173.5 530.7 154.9 583.2 205.5 465.5 226.6 472.4 183.9 432.4 170.8 514.6 164.7 445.1 167.8 428.9 180.5 458.7 147.9 542.4 141.4 553.7 184.6 527.9 180.3 513.8 184.2 459.7 158.4 509.3 171.3 424.9 148.5 410.8 132.9 476.2 157.2 480.8 177.7 547.2 189.1 485.8 123.6 477.5 240.5 465.3 146.9 432.5 117.1 476.4 116.1 500.6 141.8 551.2 163.3 459.9 117.5 581.9 189.7 514.7 169.0 459.2 169.5 465.1 123.0 472.9 224.7 485.8 121.2 506.1 146.9 480.3 173.9 456.1 216.8 463.5 115.2 569.9 193.6 506.0 176.1 515.9 189.7 532.7 164.5 448.5 135.2 486.1 182.4 497.3 170.4 476.2 160.6 499.4 205.4 443.2 151.0 426.1 144.6 570.5 155.7 513.7 140.6 540.9 192.2 444.4 165.3 536.3 155.9 591.5 199.9 535.2 209.5 477.0 126.6 478.4 129.5 468.7 159.7 540.8 139.0 483.0 157.5 550.2 150.8 550.0 176.2 471.4 175.3 447.8 138.3 481.8 143.2 502.9 193.2 504.9 189.1 432.3 169.0 514.5 200.9 482.6 135.6 456.2 134.0 542.9 143.7 436.5 119.6 448.0 135.3 490.7 137.0 458.5 146.5" fill="none" stroke="none" marker-start="url(#mt)" marker-mid="url(#mt)" marker-end="url(#mt)"/><path d="M474.4 84.5 490.7 107.9 536.3 113.8 579.9 93.3 569.4 120.3 579.9 102.9 577.6 110.6 575.4 64.1 409.7 102.6 609.2 126.8 613.3 197.7 620.2 85.9 568.2 118.1 574.7 139.1 625.3 119.3 650.7 148.0 627.6 147.6 532.7 109.1 531.0 108.1 605.0 133.7 571.6 141.3 585.9 166.6 540.3 123.0 578.6 156.1 596.4 126.2 564.5 144.7 474.3 94.9 621.6 118.3 495.5 106.7 599.2 168.3 521.9 118.6 605.9 162.0 463.0 88.2 426.5 97.2 540.7 108.5 436.4 96.6 448.3 82.5 577.7 161.4 614.7 147.7 484.3 114.2 427.7 67.2 549.8 100.7 565.7 120.8 487.7 91.7 577.9 103.1 560.0 124.5 614.9 154.3 415.9 89.7 595.7 187.2 567.7 120.1 422.2 97.0 604.6 135.2 521.9 108.3 615.6 94.7 584.1 152.4 617.4 190.2 439.4 84.5 495.5 71.8 568.4 127.1 453.5 91.4 545.1 126.9 578.6 136.1 614.0 148.2 644.3 101.7 487.8 111.0 617.3 173.8 450.2 106.7 537.9 105.8 607.8 170.9 488.6 87.5 422.9 93.7 589.4 180.5 608.7 90.2 458.4 94.5 419.6 27.3 589.6 183.6 572.3 108.8 614.0 163.1 599.1 109.3 563.6 142.7 480.9 76.1 495.8 119.6 545.5 119.5 436.8 69.6 616.8 144.4 449.1 92.6 462.9 108.9 568.2 126.1 615.7 166.2 604.9 105.4 505.4 98.6 594.7 132.1 581.6 138.2 586.1 114.4 472.4 104.0 495.1 110.0 606.5 99.3 548.5 82.7 642.9 181.4 588.2 138.6 458.7 97.3 453.4 106.1 549.9 95.4 542.0 120.2 605.3 134.1 548.1 102.8 577.7 122.3 562.3 139.8 557.9 107.8 456.1 106.9 615.1 230.7 560.7 135.4 559.4 126.4 585.7 167.9 546.6 110.3 588.1 112.8 474.7 99.3 545.7 124.7 662.6 90.5 471.1 77.6 432.8 104.4 477.1 63.2 581.5 167.4 596.1 94.5 411.7 100.6 570.3 64.1 556.3 90.7 564.3 79.9 603.7 167.0 569.9 95.9 583.2 105.8 514.8 112.7 616.8 151.4 467.2 111.6 486.1 107.0 585.5 133.3 640.5 104.5 543.2 97.6 467.2 93.2 565.9 141.5 598.5 124.1 586.6 144.8 558.2 140.5 648.9 133.1 634.1 198.2 530.3 117.6 599.4 176.2 460.6 104.7 573.7 130.9 491.2 78.9 607.2 115.0 460.7 102.9 607.9 131.7 577.7 120.8 438.6 102.7 543.4 115.7 601.2 123.3 590.9 177.5 567.3 117.5 611.1 118.2 579.5 142.2 574.7 123.2 465.0 107.8 615.9 174.0 490.4 109.9 436.8 91.5 612.2 137.5 538.5 122.2 529.7 83.7 482.0 88.7 459.3 94.2 401.6 101.2 594.6 155.9 568.2 124.2 497.7 67.4 617.2 150.1 482.5 114.0 498.9 118.9 577.1 123.8 523.5 109.3 593.1 103.4 562.2 140.0 441.1 77.6 589.6 149.7 605.6 120.1 599.0 125.3 496.2 94.8 460.0 72.9 443.9 81.5 447.2 102.2 596.1 170.4 582.7 163.5 609.2 115.5 555.2 125.9 509.5 119.0 457.3 108.0 624.3 190.2 452.9 99.9 573.4 151.8 528.9 95.6 530.0 119.4 619.7 149.4 484.8 71.5 540.3 106.7 591.5 167.8 597.3 122.7 549.7 96.7 475.2 111.6 528.0 103.1 446.6 99.5 619.7 202.3 522.1 116.2 671.6 120.2 488.5 117.3 429.6 73.7 495.4 114.6 582.2 117.5 569.8 137.3 595.1 71.5 599.5 180.9 586.4 87.2 605.8 147.5 504.9 106.3 442.4 89.9 568.9 90.1 513.4 114.4 556.6 122.0 486.0 117.8 481.9 90.3 448.1 102.6 514.0 98.7 490.1 114.5 567.7 124.5 636.8 174.5 538.0 121.6 630.3 193.5 576.0 131.9 600.9 93.7 602.8 209.3 485.7 79.9 563.4 106.8 571.9 140.2 608.8 135.6 565.1 146.7 567.6 104.5 579.6 76.5 587.2 119.3 541.8 77.6 422.2 79.9 585.7 156.1 495.4 117.6 644.7 185.6 533.2 109.3 586.6 147.2 554.7 127.3 452.6 84.8 561.3 95.2 572.3 107.5 605.1 178.7 594.2 146.9 567.2 140.4 616.6 163.6 539.2 102.9 571.1 133.6 548.2 127.7 518.6 96.1 570.9 123.1 461.3 106.5 593.1 87.2 496.0 82.2 607.1 165.4 600.4 180.8 683.0 181.5 594.2 165.8 654.0 64.4 506.4 95.0 553.3 137.1 568.1 117.2 606.9 137.3 585.5 125.2 591.8 182.1 508.9 101.2 577.3 155.0 579.6 136.8 580.5 140.2 574.8 157.0 559.5 122.0 601.8 133.9 649.3 219.0 590.4 138.1 592.1 95.6 606.4 159.0 571.9 153.7 596.7 168.0 612.1 144.3 576.6 115.3 653.0 145.7 453.1 97.3 585.2 136.9 576.5 130.2 462.4 97.8 576.8 140.7 629.0 152.2 575.5 107.9 604.8 161.9 473.1 49.8 644.2 123.8 656.8 121.2 607.4 127.4 511.5 94.5 611.3 106.9 457.3 94.2 596.8 121.2 463.3 69.6 597.9 162.4 588.0 153.9 559.6 99.1 500.1 73.4 600.5 176.8 558.7 121.2 586.5 135.7 581.0 81.1 602.9 102.7 553.7 127.4 571.5 153.1 488.1 61.8 545.0 112.3 426.8 72.9 590.6 158.3 611.0 168.0 453.9 93.9 547.0 100.9 555.0 114.6 458.6 68.7 573.1 74.8 457.4 93.4 556.6 139.7 402.9 91.0 537.8 118.3 488.1 71.5 428.5 98.9 591.3 129.8 536.8 125.6 490.7 116.9 549.5 128.9 547.2 126.8 559.7 129.7 563.3 126.8 484.9 82.5 461.8 106.1 650.7 118.8 554.1 90.1 526.1 113.5 410.2 79.9 586.4 95.5 596.8 142.4 610.7 123.7 505.4 107.5 562.5 109.9 538.6 121.9 489.4 97.7 587.1 129.0 559.8 130.6 560.2 124.8 609.4 82.0 591.2 101.0 598.6 89.9 597.3 136.1 571.9 109.7 477.5 93.2 492.4 118.3 601.0 140.1 576.6 143.3 555.8 122.4 598.4 142.7 591.4 152.6 578.9 138.9 498.3 102.4 438.4 71.8 533.8 106.9 593.8 90.4 600.2 134.1 578.0 133.6 512.1 77.1 582.4 152.8 551.8 76.5 615.9 99.9 604.7 215.2 512.7 113.9 596.5 163.4 633.1 180.5 505.7 45.8 612.5 180.9 531.3 115.7 637.7 54.8 591.2 97.0 465.4 108.5 513.2 97.1 442.0 102.8 418.5 90.9 600.7 198.9 539.1 83.2 492.1 112.8 514.0 85.5 607.5 63.2 454.7 101.1 561.6 107.6 577.0 148.4 575.6 130.2 508.0 98.8 618.0 153.9 682.7 88.2 492.2 105.5 494.4 107.9 475.4 92.7 576.1 137.2 637.3 179.5 573.3 108.4 572.2 143.3 520.4 114.7 461.4 44.1 598.4 82.7 429.9 92.8 430.0 33.4 582.7 111.6 414.3 96.4 580.7 141.7 615.8 170.5 450.3 76.5 450.5 87.6 539.9 126.6 607.8 119.3 604.5 159.4 443.8 103.0 610.6 137.7 609.5 135.2 519.3 85.2 585.2 160.3 572.7 58.5 453.3 74.8 517.5 118.9 634.0 212.9 564.7 116.2 481.8 98.2 481.6 116.3 620.2 178.2 572.8 156.8 632.7 188.9 651.2 162.4 591.4 134.9 575.6 122.2 487.9 114.2 587.0 168.9 585.3 167.4 613.5 171.9 495.4 101.6 558.2 135.8 600.3 147.8 586.4 128.9 578.3 162.4 495.0 100.8 448.9 94.7 576.2 121.6 439.5 91.7 514.6 116.1 630.8 148.5 498.6 106.5 629.9 117.5 653.0 170.8 559.8 136.3 575.3 115.2 563.3 127.6 573.3 135.5 509.8 87.0 619.7 206.9 507.3 105.9 496.3 49.8 561.2 124.4 468.1 88.2 558.5 105.5 588.1 167.8 543.5 116.4 554.3 135.5 612.1 143.9 563.5 121.9 608.8 133.8 589.2 168.1 579.4 88.0 519.2 101.5 644.7 168.5 632.7 144.8 615.1 99.2 612.1 184.4 605.1 111.1 536.0 76.7 449.8 96.4 618.0 168.8 594.2 65.5 560.7 111.1 653.0 133.1 517.1 119.9 490.6 109.5 600.4 183.2 622.5 131.8 617.3 154.3 593.3 207.9 549.4 115.3 580.0 107.1 620.2 211.2 486.6 83.3 610.3 130.8 522.4 118.2 599.8 154.2 541.2 124.3 497.0 117.6 581.0 151.7 551.9 83.5 515.2 116.6 575.3 141.5 442.4 97.4 614.8 145.9 415.7 60.0 623.9 155.0 497.1 109.1 571.4 138.7 565.4 116.2 493.9 86.1 577.3 148.7 565.5 114.9 562.0 105.5 554.9 130.6 608.2 187.8 471.5 104.0 512.4 87.1 552.1 97.4 530.4 106.0 599.6 200.2 596.2 126.4 416.7 91.0 544.0 122.3 563.8 107.6 525.4 82.1 611.9 165.7 595.0 180.8 512.9 78.5 597.4 137.4 597.8 158.7 566.5 127.6 419.4 59.0 559.4 120.8 559.1 113.9 454.4 96.5 504.3 105.6 619.7 92.8 613.3 207.8 428.7 81.1 602.5 163.9 557.6 117.8 537.3 127.0 587.6 152.0 616.6 184.8 474.0 108.4 576.6 128.9 646.6 153.1 602.8 166.8 623.8 185.6 488.1 97.0 499.1 104.0 427.4 93.6 539.9 128.2 572.7 130.2 499.9 106.1 526.2 118.6 544.3 83.7 560.5 122.1 564.4 145.9 565.5 128.4 471.4 104.6 619.7 139.2 567.2 116.3 598.3 108.6 460.0 58.5 509.3 116.9 481.5 92.0 614.9 159.4 535.1 107.8 641.4 145.3 592.5 176.8 521.2 114.9 560.1 140.9 632.3 110.1 468.3 83.7 537.3 114.7 605.5 175.4 443.0 59.8 585.0 162.5 550.5 122.8 548.9 131.8 514.4 110.9 541.5 105.4 505.1 120.3 569.8 89.6 615.7 164.1 599.9 107.9 615.1 234.6 565.1 135.0 459.9 104.8 593.7 173.9 590.2 172.8 480.5 108.7 634.0 142.9 499.2 114.6 616.6 183.1 561.5 106.9 590.0 144.7 478.2 111.8 513.2 90.3 560.7 106.3 585.4 134.1 563.3 96.9 430.6 94.6 502.9 119.5 442.4 65.3 581.2 145.3 648.0 121.6 537.8 87.0 464.2 83.8 629.0 140.1 574.3 146.9 640.1 162.4 412.1 100.2 485.0 116.7 490.1 91.3 592.5 119.2 465.5 100.8 613.9 136.0 505.4 96.1 589.0 136.3 473.6 89.8 612.3 201.5 616.2 100.9 525.8 78.0 535.7 80.4 519.8 110.3 531.2 108.4 491.1 82.1 420.6 98.2 570.1 153.9 606.0 100.3 602.8 122.2 606.8 226.3 587.2 156.6 589.9 169.0 623.9 159.6 553.1 125.7 627.1 138.7 502.4 85.8 481.4 112.3 541.5 129.0 597.4 186.3 529.7 108.3 547.6 119.1 516.2 82.1 477.2 108.5 648.8 110.1 602.4 105.7 553.3 118.3 558.5 137.1 474.9 105.5 591.0 150.7 565.1 121.1 525.8 116.2 495.3 120.1 469.8 96.4 460.1 100.2 538.4 116.7 670.6 97.1 561.2 142.4 557.8 130.4 581.4 88.1 584.9 134.6 604.9 138.3 679.0 110.9 570.9 114.6 641.9 184.3 621.0 116.0 467.1 85.6 592.1 163.6 581.9 154.5 542.8 92.9 580.1 65.9 530.7 106.2 463.7 107.2 591.2 149.6 571.4 93.7 571.0 117.3 551.4 104.1 460.0 53.3 523.2 94.6 591.1 97.5 439.1 100.6 588.3 140.1 631.3 142.9 460.9 52.5 606.0 128.1 559.2 139.0 598.8 89.5 617.3 181.7 607.5 159.2 649.3 145.7 589.6 128.6 649.3 106.8 621.6 152.2 638.7 215.8 539.5 84.3 476.7 105.7 571.7 103.0 488.9 116.6 553.3 130.3 666.9 167.0 574.3 98.7 600.9 192.2 469.7 108.5 491.1 113.3 604.7 130.7 575.5 95.8 599.8 90.9 489.3 82.8 548.5 51.1 495.2 113.2 523.0 109.2 569.0 126.8 434.9 66.9 473.3 110.3 484.0 116.9 612.3 80.4 614.4 134.6 478.9 99.3 620.4 74.8 487.2 83.0 566.9 124.9 591.2 154.6 529.4 123.8 575.5 147.1 607.6 154.9 634.5 162.4 587.5 142.1 516.1 115.4 590.7 131.1 500.8 85.6 573.4 144.1 614.0 132.0 472.2 104.4 578.8 160.1 600.5 140.1 446.1 58.5 440.7 103.4 472.2 53.5 553.8 121.2 652.6 116.0 462.2 102.2 498.9 116.8 511.0 50.5 585.5 116.7 662.8 106.2 559.4 119.6 578.1 88.0 390.6 66.2 571.1 120.2 535.2 86.6 592.8 116.6 548.0 114.0 587.2 128.4 494.0 118.1 509.7 121.9 504.0 120.6 582.7 135.4 574.7 110.2 528.3 78.9 605.4 176.6 595.5 130.2 434.6 101.2 589.1 128.2 580.3 134.5 612.5 172.8 614.5 157.9 572.9 94.0 497.3 77.6 594.1 159.0 634.5 114.7 626.6 167.0 553.8 134.4 513.5 119.3 469.6 107.5 589.4 153.3 578.3 104.0 571.0 119.0 586.0 170.0 540.6 112.6 440.7 104.7 534.3 100.8 612.0 150.9 464.2 70.6 494.5 107.8 547.5 87.1 541.8 120.1 492.0 104.9 603.4 110.8 516.7 106.3 600.7 191.5 575.4 156.8 509.4 111.0 514.2 118.1 522.8 102.9 546.1 122.5 419.6 102.6 607.6 195.9 572.3 138.4 572.3 128.0 574.1 140.6 592.8 81.1 604.5 193.7 607.5 128.2 583.8 160.1 581.8 123.7 610.2 152.1 545.9 65.3 610.5 128.2 614.0 82.9 517.5 121.0 598.7 203.1 603.4 172.3 578.9 145.8 580.0 149.0 472.2 57.9 551.3 93.8 475.0 111.0 573.5 116.9 411.1 79.9 485.4 115.8 612.7 178.5 514.4 113.0 548.5 109.4 568.7 148.1 565.9 130.3 629.0 229.6 530.5 120.6 596.1 156.0 537.4 101.7 482.1 99.3 523.3 94.7 605.7 125.7 547.3 93.9 517.2 88.0 601.5 145.2 657.7 179.1 559.2 113.6 482.2 51.1 414.3 78.0 561.1 131.9 571.7 80.4 459.5 88.0 619.3 197.7 626.2 128.1 613.2 100.7 553.7 116.6 626.2 169.8 603.0 185.2 474.2 92.4 585.7 160.6 549.6 133.6 481.5 73.7 594.2 61.8 595.4 134.1 579.9 102.4 604.4 115.0 522.2 122.8 609.1 106.7 513.5 95.8 668.4 120.2 592.4 128.3 506.8 117.0 517.5 70.9 577.3 81.1 537.0 101.3 586.9 112.9 581.1 127.5 500.7 90.2 500.8 121.2 590.5 191.2 566.0 107.7 485.5 88.2 575.2 108.8 614.3 120.2 588.6 111.1 583.9 168.0 590.4 163.9 606.3 187.9 612.2 136.5 467.2 100.6 612.1 108.5 536.7 126.1 518.3 106.3 458.4 106.8 614.4 176.3 597.7 153.8 547.8 79.2 575.3 118.5 522.6 123.2 530.9 124.7 459.9 103.6 648.0 156.4 558.8 112.3 561.3 120.5 454.6 79.2 479.8 96.3 486.2 83.3 527.9 120.0 622.5 143.9 638.2 124.9 575.8 137.6 504.3 119.4 596.1 168.8 587.7 129.7 545.4 113.2 617.8 124.0 621.6 212.1 620.2 128.6 608.9 106.9 620.6 174.5 455.9 105.9 579.3 115.8 600.8 161.4 575.1 95.5 628.0 131.8 604.1 161.6 573.1 71.1 606.9 153.8 531.7 118.8 616.0 114.9 555.4 127.3 564.2 120.3 494.5 119.9 588.6 115.9 584.1 90.7 549.2 116.6 481.5 104.1 640.6 143.9 499.5 90.1 568.0 124.3 470.3 111.2 573.5 153.5 595.9 130.7 621.0 193.5 453.3 50.5 561.8 114.8 567.1 78.9 594.0 112.1 582.2 108.3 478.1 76.7 594.2 197.7 586.9 172.4 563.1 123.8 557.9 93.8 475.5 71.5 591.7 110.4 607.4 161.1 629.9 160.6 566.8 124.4 568.8 129.8" fill="none" stroke="none" marker-start="url(#mp)" marker-mid="url(#mp)" marker-end="url(#mp)"/><path d="M65.4 78.5 59.9 88.4 56.1 91.5 85.4 107.3 121.7 91.1 129.8 92.2 147.4 82.8 195.3 70.2 220.6 91.0 274.6 84.2 39.0 129.6 60.6 122.4 65.3 123.3 68.8 123.9 59.7 126.9 71.0 129.8 65.6 138.8 68.3 139.2 80.4 129.6 85.8 128.9 86.7 127.5 84.3 133.2 85.4 143.3 84.9 147.6 94.7 139.2 96.9 137.9 96.2 140.6 101.9 142.8 107.0 133.8 108.2 132.9 111.3 137.4 107.7 144.2 103.7 147.8 101.6 148.5 105.2 149.1 110.0 147.3 112.7 147.8 115.4 149.4 118.7 146.0 119.9 148.2 123.2 152.1 108.9 151.8 120.5 119.4 123.0 122.4 118.1 128.0 121.7 130.2 125.0 129.3 128.4 132.3 127.1 134.7 119.0 135.6 125.7 141.0 128.6 137.4 102.8 153.9 148.9 106.7 159.3 104.0 166.9 106.3 167.8 113.3 186.7 110.3 189.0 113.3 210.0 97.2 209.5 99.5 198.3 118.9 183.1 121.4 183.4 125.2 189.7 123.8 208.6 132.8 226.8 128.3 131.4 117.8 142.2 122.3 138.6 131.9 143.5 131.9 144.4 133.3 146.5 133.3 150.7 130.1 151.2 132.4 152.5 131.9 131.8 136.4 178.2 136.7 196.9 141.4 140.4 141.4 228.0 142.1 273.2 95.4 269.0 107.3 283.6 112.8 237.6 118.2 247.6 121.3 267.2 129.9 281.8 130.3 300.7 132.3 322.1 132.4 239.9 135.3 239.9 137.7 247.4 139.5 73.2 164.4 70.5 178.8 69.9 185.4 76.8 195.0 77.7 159.0 79.5 157.7 83.1 157.6 84.0 160.8 89.0 159.0 92.1 156.3 92.1 162.2 96.0 161.2 103.4 155.0 110.9 157.6 108.6 160.4 114.9 154.1 117.8 151.4 104.6 166.5 110.4 177.3 100.1 182.4 125.3 158.6 128.0 159.0 128.6 162.2 144.4 144.0 155.5 147.6 162.9 153.1 156.1 155.6 163.8 158.9 158.8 162.5 135.9 159.2 140.4 165.7 143.5 167.0 153.7 171.8 141.2 175.6 174.1 153.0 182.2 149.4 186.7 149.4 182.2 166.6 191.7 168.8 180.9 178.7 195.1 178.1 207.0 177.8 196.0 145.4 211.8 149.4 214.5 150.3 216.9 146.8 217.2 155.8 223.9 161.0 229.3 164.3 227.1 187.1 255.2 143.1 254.3 144.9 230.5 147.2 237.6 149.9 245.8 148.8 245.8 156.9 252.8 162.0 256.1 164.3 244.7 163.4 263.3 155.1 245.3 174.6 134.9 209.3 200.1 192.6 198.3 195.3 240.8 188.1 269.2 186.3" fill="none" stroke="none" marker-start="url(#mv)" marker-mid="url(#mv)" marker-end="url(#mv)"/><path d="M407.0 95.4 410.9 92.7 424.6 97.6 413.8 118.8 416.5 128.3 410.9 131.9 445.1 112.5 457.9 111.9 449.8 118.8 449.2 122.9 439.4 123.8 434.5 127.8 452.8 128.1 446.9 131.4 460.0 134.6 439.0 137.7 473.5 99.9 473.5 125.6 470.8 129.9 471.7 133.2 473.5 132.3 419.2 145.3 414.2 158.9 425.5 153.0 444.7 141.3 447.4 145.3 437.2 149.0 442.6 150.8 449.8 152.1 454.1 148.5 454.1 153.9 456.4 155.1 459.1 152.4 448.3 158.4 455.9 161.1 447.8 167.4 463.3 163.4 460.9 167.0 466.3 156.9 469.9 153.9 475.9 149.0 438.5 172.8 430.4 179.4 433.1 179.1 447.8 182.1 418.1 201.6 442.9 194.4 460.9 189.4 472.1 193.5 529.5 93.2 557.0 92.7 543.8 102.6 564.9 104.0 573.5 106.7 551.6 113.4 502.8 120.9 506.4 123.3 514.2 123.8 481.9 132.8 497.1 137.7 507.9 138.6 517.4 133.5 544.7 137.1 562.2 131.7 571.7 134.1 573.9 132.6 481.9 138.2 504.3 143.1 506.6 152.4 483.2 159.6 496.7 159.6 485.4 167.4 507.3 178.5 495.3 181.8 496.5 183.9 545.6 144.0 537.0 149.9 537.0 155.7 539.4 180.3 566.9 155.7 569.6 155.1 575.7 153.9 578.6 149.4 572.1 179.1 578.6 189.9 594.4 65.7 599.4 104.0 649.8 106.7 657.0 121.1 649.2 133.5 638.4 136.2 626.7 138.0 603.4 138.9 592.6 145.8 611.8 148.8 620.8 150.6 602.1 155.1 651.0 162.5 602.5 173.7 587.6 176.0 592.2 179.0 620.5 177.8 601.2 193.5 616.0 194.0 626.4 193.1" fill="none" stroke="none" marker-start="url(#mv)" marker-mid="url(#mv)" marker-end="url(#mv)"/><circle cx="170.5" cy="7.6" r="2.35" fill="none" stroke="#bcdcd4" stroke-width="1.2"/><circle cx="170.5" cy="22.2" r="2.35" fill="none" stroke="#efcacd" stroke-width="1.2"/><circle cx="170.5" cy="36.4" r="2.35" fill="none" stroke="#a063cb" stroke-width="1.35"/><text x="179.0" y="13.6" font-size="11.45" fill="#111" stroke="#111" stroke-width="0.15">Unselected fragments</text><text x="179.0" y="26.0" font-size="11.45" fill="#111" stroke="#111" stroke-width="0.15">Top 30% of fragments</text><text x="179.0" y="39.2" font-size="11.45" fill="#111" stroke="#111" stroke-width="0.15">Experimental epitopes</text><circle cx="554.2" cy="6.1" r="2.35" fill="none" stroke="#bcdcd4" stroke-width="1.2"/><circle cx="554.2" cy="20.2" r="2.35" fill="none" stroke="#efcacd" stroke-width="1.2"/><circle cx="554.2" cy="34.3" r="2.35" fill="none" stroke="#a063cb" stroke-width="1.35"/><text x="562.4" y="12.1" font-size="11.45" fill="#111" stroke="#111" stroke-width="0.15">Unselected fragments</text><text x="562.4" y="24.6" font-size="11.45" fill="#111" stroke="#111" stroke-width="0.15">Top 30% of fragments</text><text x="562.4" y="37.3" font-size="11.45" fill="#111" stroke="#111" stroke-width="0.15">Predicted epitopes</text><text x="165.9" y="273.4" font-size="14.3" fill="#111" stroke="#111" stroke-width="0.2" text-anchor="middle">T cell score</text><text x="549.6" y="278.0" font-size="14.3" fill="#111" stroke="#111" stroke-width="0.2" text-anchor="middle">T cell score</text><text transform="translate(11.9 140.6) rotate(-90)" font-size="14.3" fill="#111" stroke="#111" stroke-width="0.2" text-anchor="middle">B cell score</text><text transform="translate(362.5 141.8) rotate(-90)" font-size="14.3" fill="#111" stroke="#111" stroke-width="0.2" text-anchor="middle">B cell score</text><text x="0.4" y="12.9" font-size="17" fill="#111" stroke="#111" stroke-width="0.2">A</text><text x="344.6" y="12.9" font-size="17" fill="#111" stroke="#111" stroke-width="0.2">B</text></g></svg></body></html>
